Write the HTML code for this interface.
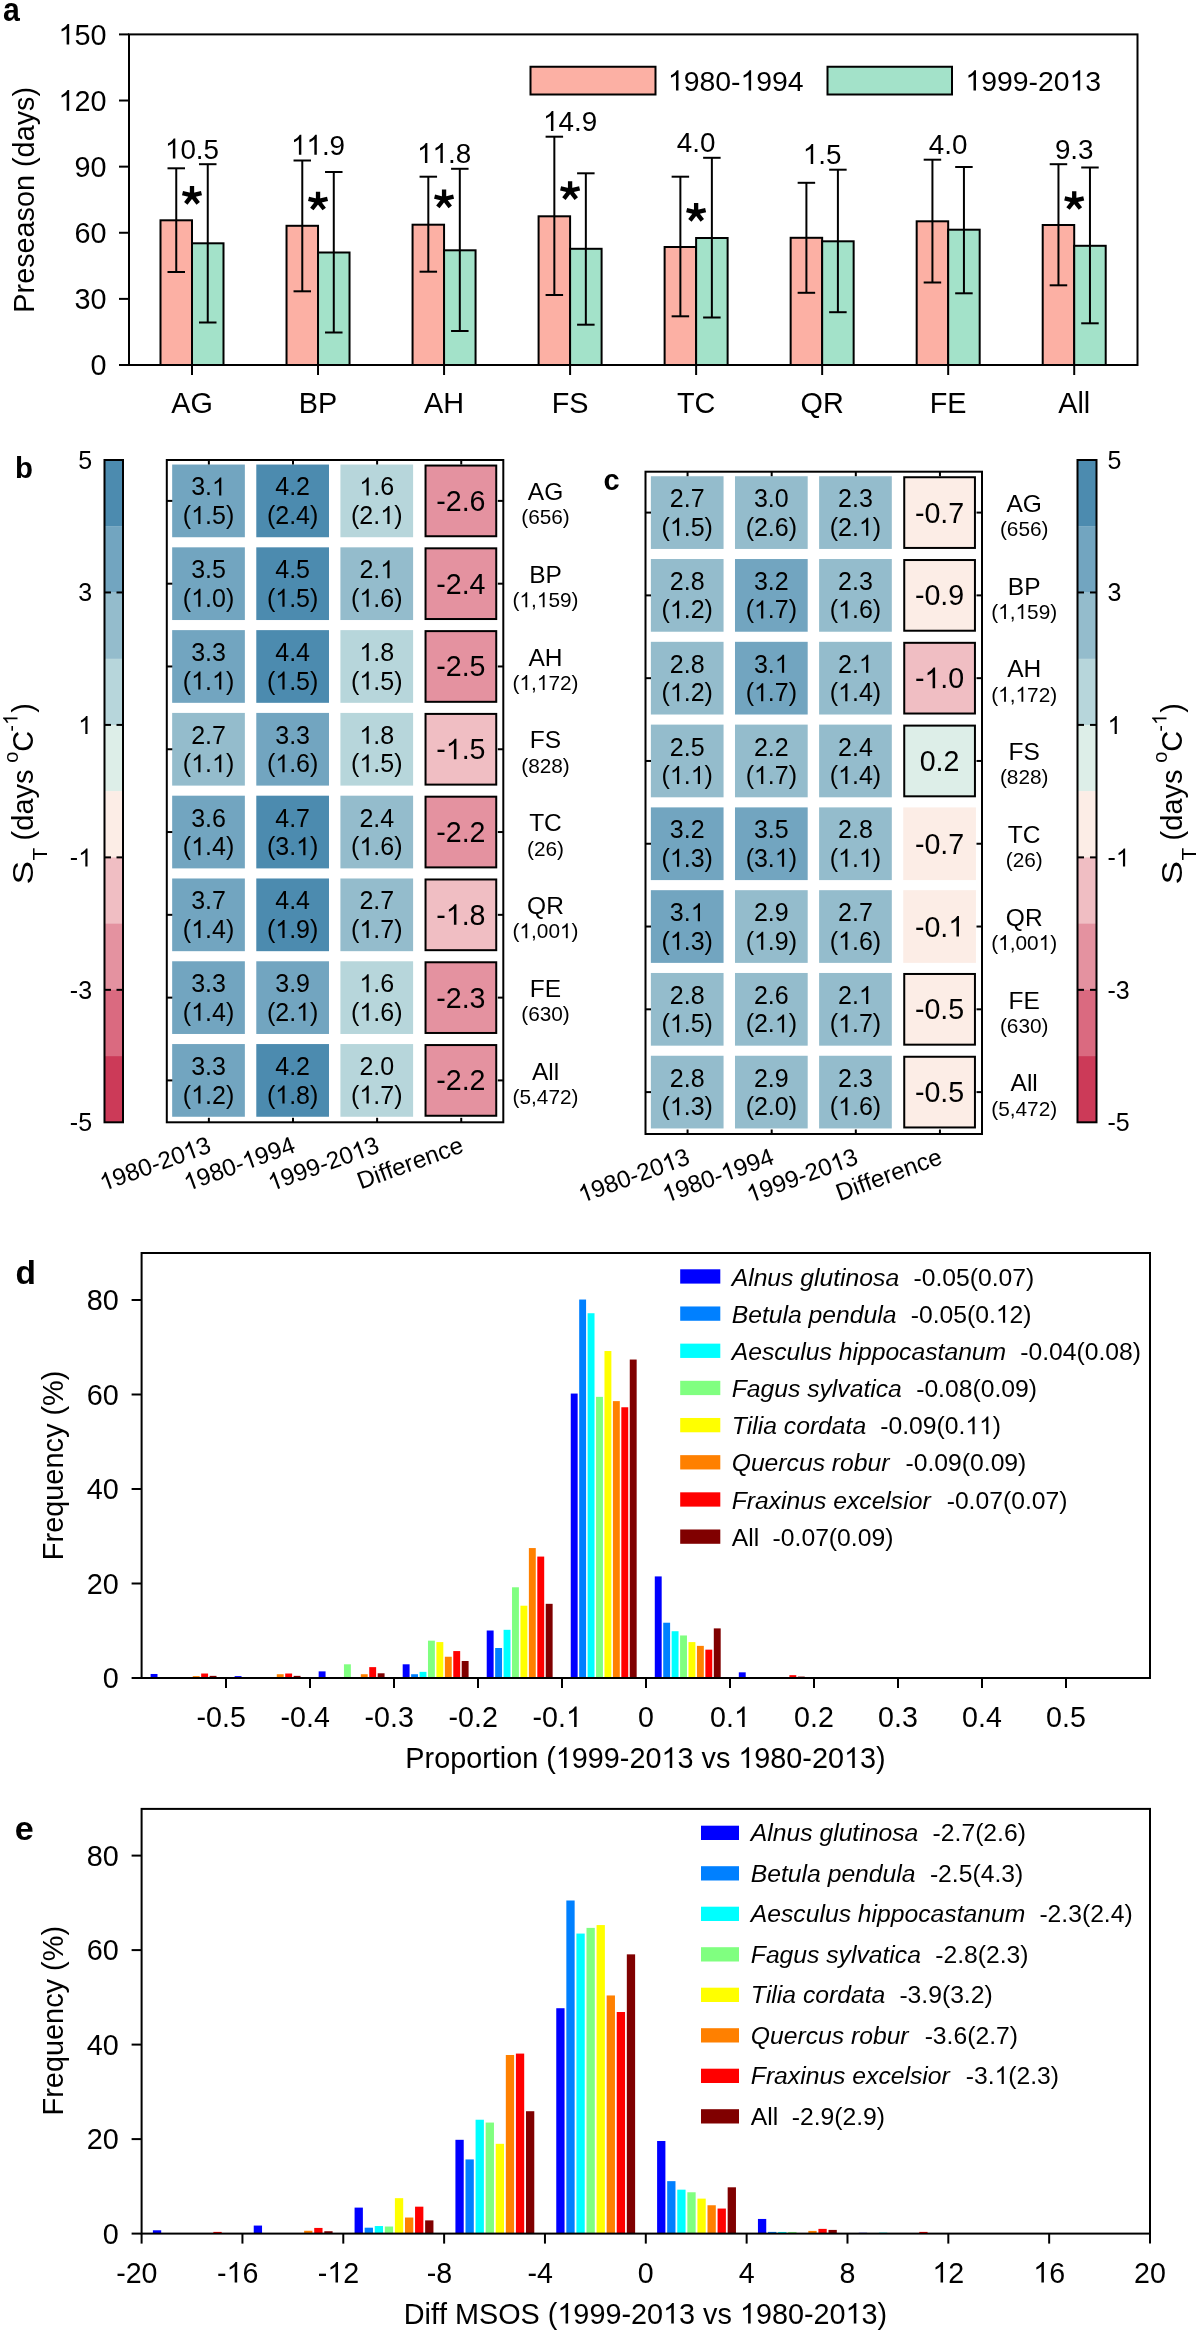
<!DOCTYPE html>
<html><head><meta charset="utf-8"><title>Figure</title>
<style>html,body{margin:0;padding:0;background:#fff;overflow:hidden}svg{display:block;will-change:transform}text{font-kerning:none;font-variant-ligatures:none}text{font-family:"Liberation Sans",sans-serif;fill:#000}</style>
</head><body>
<svg width="1199" height="2334" viewBox="0 0 1199 2334">
<rect width="1199" height="2334" fill="#fff"/>
<rect x="160.5" y="220.3" width="31.5" height="144.7" fill="#FCB0A4" stroke="#000" stroke-width="2"/>
<rect x="192" y="243.3" width="31.5" height="121.7" fill="#A3E2C9" stroke="#000" stroke-width="2"/>
<rect x="286.53" y="225.8" width="31.5" height="139.2" fill="#FCB0A4" stroke="#000" stroke-width="2"/>
<rect x="318.03" y="252.5" width="31.5" height="112.5" fill="#A3E2C9" stroke="#000" stroke-width="2"/>
<rect x="412.56" y="224.7" width="31.5" height="140.3" fill="#FCB0A4" stroke="#000" stroke-width="2"/>
<rect x="444.06" y="250.3" width="31.5" height="114.7" fill="#A3E2C9" stroke="#000" stroke-width="2"/>
<rect x="538.59" y="216.3" width="31.5" height="148.7" fill="#FCB0A4" stroke="#000" stroke-width="2"/>
<rect x="570.09" y="248.8" width="31.5" height="116.2" fill="#A3E2C9" stroke="#000" stroke-width="2"/>
<rect x="664.62" y="247" width="31.5" height="118" fill="#FCB0A4" stroke="#000" stroke-width="2"/>
<rect x="696.12" y="238" width="31.5" height="127" fill="#A3E2C9" stroke="#000" stroke-width="2"/>
<rect x="790.65" y="237.8" width="31.5" height="127.2" fill="#FCB0A4" stroke="#000" stroke-width="2"/>
<rect x="822.15" y="241.3" width="31.5" height="123.7" fill="#A3E2C9" stroke="#000" stroke-width="2"/>
<rect x="916.68" y="221.3" width="31.5" height="143.7" fill="#FCB0A4" stroke="#000" stroke-width="2"/>
<rect x="948.18" y="229.7" width="31.5" height="135.3" fill="#A3E2C9" stroke="#000" stroke-width="2"/>
<rect x="1042.71" y="225" width="31.5" height="140" fill="#FCB0A4" stroke="#000" stroke-width="2"/>
<rect x="1074.21" y="245.8" width="31.5" height="119.2" fill="#A3E2C9" stroke="#000" stroke-width="2"/>
<line x1="176.25" y1="168.3" x2="176.25" y2="272" stroke="#000" stroke-width="2"/>
<line x1="167.5" y1="168.3" x2="185" y2="168.3" stroke="#000" stroke-width="2"/>
<line x1="167.5" y1="272" x2="185" y2="272" stroke="#000" stroke-width="2"/>
<line x1="207.75" y1="164.2" x2="207.75" y2="322.5" stroke="#000" stroke-width="2"/>
<line x1="199" y1="164.2" x2="216.5" y2="164.2" stroke="#000" stroke-width="2"/>
<line x1="199" y1="322.5" x2="216.5" y2="322.5" stroke="#000" stroke-width="2"/>
<text x="164.95" y="158.5" font-size="27.8"> 0.5</text><path d="M763 0L583 0L583 1147Q518 1085 412 1023Q306 961 222 930L222 1104Q373 1175 486 1276Q599 1377 646 1472L763 1472Z" transform="translate(164.95,158.5) scale(0.01357,-0.01357)"/>
<path d="M192 195.4L192 186 M192 195.4L182.5 193.1 M192 195.4L201.5 193.1 M192 195.4L185.8 203.3 M192 195.4L198.2 203.3" stroke="#000" stroke-width="4.3" fill="none"/>
<line x1="192" y1="365" x2="192" y2="375" stroke="#000" stroke-width="2"/>
<text x="171.19" y="412.5" font-size="28.8">AG</text>
<line x1="302.28" y1="160.5" x2="302.28" y2="291.3" stroke="#000" stroke-width="2"/>
<line x1="293.53" y1="160.5" x2="311.03" y2="160.5" stroke="#000" stroke-width="2"/>
<line x1="293.53" y1="291.3" x2="311.03" y2="291.3" stroke="#000" stroke-width="2"/>
<line x1="333.78" y1="172" x2="333.78" y2="332.5" stroke="#000" stroke-width="2"/>
<line x1="325.03" y1="172" x2="342.53" y2="172" stroke="#000" stroke-width="2"/>
<line x1="325.03" y1="332.5" x2="342.53" y2="332.5" stroke="#000" stroke-width="2"/>
<text x="290.98" y="154.8" font-size="27.8">  .9</text><path d="M763 0L583 0L583 1147Q518 1085 412 1023Q306 961 222 930L222 1104Q373 1175 486 1276Q599 1377 646 1472L763 1472Z" transform="translate(290.98,154.8) scale(0.01357,-0.01357)"/><path d="M763 0L583 0L583 1147Q518 1085 412 1023Q306 961 222 930L222 1104Q373 1175 486 1276Q599 1377 646 1472L763 1472Z" transform="translate(306.44,154.8) scale(0.01357,-0.01357)"/>
<path d="M318.03 201.1L318.03 191.7 M318.03 201.1L308.53 198.8 M318.03 201.1L327.53 198.8 M318.03 201.1L311.83 209 M318.03 201.1L324.23 209" stroke="#000" stroke-width="4.3" fill="none"/>
<line x1="318.03" y1="365" x2="318.03" y2="375" stroke="#000" stroke-width="2"/>
<text x="298.82" y="412.5" font-size="28.8">BP</text>
<line x1="428.31" y1="176.7" x2="428.31" y2="271.7" stroke="#000" stroke-width="2"/>
<line x1="419.56" y1="176.7" x2="437.06" y2="176.7" stroke="#000" stroke-width="2"/>
<line x1="419.56" y1="271.7" x2="437.06" y2="271.7" stroke="#000" stroke-width="2"/>
<line x1="459.81" y1="168.8" x2="459.81" y2="331" stroke="#000" stroke-width="2"/>
<line x1="451.06" y1="168.8" x2="468.56" y2="168.8" stroke="#000" stroke-width="2"/>
<line x1="451.06" y1="331" x2="468.56" y2="331" stroke="#000" stroke-width="2"/>
<text x="417.01" y="163.1" font-size="27.8">  .8</text><path d="M763 0L583 0L583 1147Q518 1085 412 1023Q306 961 222 930L222 1104Q373 1175 486 1276Q599 1377 646 1472L763 1472Z" transform="translate(417.01,163.1) scale(0.01357,-0.01357)"/><path d="M763 0L583 0L583 1147Q518 1085 412 1023Q306 961 222 930L222 1104Q373 1175 486 1276Q599 1377 646 1472L763 1472Z" transform="translate(432.47,163.1) scale(0.01357,-0.01357)"/>
<path d="M444.06 199L444.06 189.6 M444.06 199L434.56 196.7 M444.06 199L453.56 196.7 M444.06 199L437.86 206.9 M444.06 199L450.26 206.9" stroke="#000" stroke-width="4.3" fill="none"/>
<line x1="444.06" y1="365" x2="444.06" y2="375" stroke="#000" stroke-width="2"/>
<text x="424.06" y="412.5" font-size="28.8">AH</text>
<line x1="554.34" y1="136.7" x2="554.34" y2="295" stroke="#000" stroke-width="2"/>
<line x1="545.59" y1="136.7" x2="563.09" y2="136.7" stroke="#000" stroke-width="2"/>
<line x1="545.59" y1="295" x2="563.09" y2="295" stroke="#000" stroke-width="2"/>
<line x1="585.84" y1="173.3" x2="585.84" y2="324.7" stroke="#000" stroke-width="2"/>
<line x1="577.09" y1="173.3" x2="594.59" y2="173.3" stroke="#000" stroke-width="2"/>
<line x1="577.09" y1="324.7" x2="594.59" y2="324.7" stroke="#000" stroke-width="2"/>
<text x="543.04" y="131" font-size="27.8"> 4.9</text><path d="M763 0L583 0L583 1147Q518 1085 412 1023Q306 961 222 930L222 1104Q373 1175 486 1276Q599 1377 646 1472L763 1472Z" transform="translate(543.04,131) scale(0.01357,-0.01357)"/>
<path d="M570.09 190.7L570.09 181.3 M570.09 190.7L560.59 188.4 M570.09 190.7L579.59 188.4 M570.09 190.7L563.89 198.6 M570.09 190.7L576.29 198.6" stroke="#000" stroke-width="4.3" fill="none"/>
<line x1="570.09" y1="365" x2="570.09" y2="375" stroke="#000" stroke-width="2"/>
<text x="551.69" y="412.5" font-size="28.8">FS</text>
<line x1="680.37" y1="176.7" x2="680.37" y2="316.3" stroke="#000" stroke-width="2"/>
<line x1="671.62" y1="176.7" x2="689.12" y2="176.7" stroke="#000" stroke-width="2"/>
<line x1="671.62" y1="316.3" x2="689.12" y2="316.3" stroke="#000" stroke-width="2"/>
<line x1="711.87" y1="157.8" x2="711.87" y2="317.5" stroke="#000" stroke-width="2"/>
<line x1="703.12" y1="157.8" x2="720.62" y2="157.8" stroke="#000" stroke-width="2"/>
<line x1="703.12" y1="317.5" x2="720.62" y2="317.5" stroke="#000" stroke-width="2"/>
<text x="676.80" y="152.1" font-size="27.8">4.0</text>
<path d="M696.12 212.4L696.12 203 M696.12 212.4L686.62 210.1 M696.12 212.4L705.62 210.1 M696.12 212.4L689.92 220.3 M696.12 212.4L702.32 220.3" stroke="#000" stroke-width="4.3" fill="none"/>
<line x1="696.12" y1="365" x2="696.12" y2="375" stroke="#000" stroke-width="2"/>
<text x="676.92" y="412.5" font-size="28.8">TC</text>
<line x1="806.4" y1="182.8" x2="806.4" y2="292.8" stroke="#000" stroke-width="2"/>
<line x1="797.65" y1="182.8" x2="815.15" y2="182.8" stroke="#000" stroke-width="2"/>
<line x1="797.65" y1="292.8" x2="815.15" y2="292.8" stroke="#000" stroke-width="2"/>
<line x1="837.9" y1="169.7" x2="837.9" y2="312.2" stroke="#000" stroke-width="2"/>
<line x1="829.15" y1="169.7" x2="846.65" y2="169.7" stroke="#000" stroke-width="2"/>
<line x1="829.15" y1="312.2" x2="846.65" y2="312.2" stroke="#000" stroke-width="2"/>
<text x="802.83" y="164" font-size="27.8"> .5</text><path d="M763 0L583 0L583 1147Q518 1085 412 1023Q306 961 222 930L222 1104Q373 1175 486 1276Q599 1377 646 1472L763 1472Z" transform="translate(802.83,164) scale(0.01357,-0.01357)"/>
<line x1="822.15" y1="365" x2="822.15" y2="375" stroke="#000" stroke-width="2"/>
<text x="800.55" y="412.5" font-size="28.8">QR</text>
<line x1="932.43" y1="159.7" x2="932.43" y2="282.5" stroke="#000" stroke-width="2"/>
<line x1="923.68" y1="159.7" x2="941.18" y2="159.7" stroke="#000" stroke-width="2"/>
<line x1="923.68" y1="282.5" x2="941.18" y2="282.5" stroke="#000" stroke-width="2"/>
<line x1="963.93" y1="167" x2="963.93" y2="293.3" stroke="#000" stroke-width="2"/>
<line x1="955.18" y1="167" x2="972.68" y2="167" stroke="#000" stroke-width="2"/>
<line x1="955.18" y1="293.3" x2="972.68" y2="293.3" stroke="#000" stroke-width="2"/>
<text x="928.86" y="154" font-size="27.8">4.0</text>
<line x1="948.18" y1="365" x2="948.18" y2="375" stroke="#000" stroke-width="2"/>
<text x="929.78" y="412.5" font-size="28.8">FE</text>
<line x1="1058.46" y1="164.2" x2="1058.46" y2="285.3" stroke="#000" stroke-width="2"/>
<line x1="1049.71" y1="164.2" x2="1067.21" y2="164.2" stroke="#000" stroke-width="2"/>
<line x1="1049.71" y1="285.3" x2="1067.21" y2="285.3" stroke="#000" stroke-width="2"/>
<line x1="1089.96" y1="167.5" x2="1089.96" y2="323.3" stroke="#000" stroke-width="2"/>
<line x1="1081.21" y1="167.5" x2="1098.71" y2="167.5" stroke="#000" stroke-width="2"/>
<line x1="1081.21" y1="323.3" x2="1098.71" y2="323.3" stroke="#000" stroke-width="2"/>
<text x="1054.89" y="158.5" font-size="27.8">9.3</text>
<path d="M1074.21 200.6L1074.21 191.2 M1074.21 200.6L1064.71 198.3 M1074.21 200.6L1083.71 198.3 M1074.21 200.6L1068.01 208.5 M1074.21 200.6L1080.41 208.5" stroke="#000" stroke-width="4.3" fill="none"/>
<line x1="1074.21" y1="365" x2="1074.21" y2="375" stroke="#000" stroke-width="2"/>
<text x="1058.21" y="412.5" font-size="28.8">All</text>
<rect x="129" y="34.4" width="1008.5" height="330.6" fill="none" stroke="#000" stroke-width="2"/>
<line x1="119" y1="365" x2="129" y2="365" stroke="#000" stroke-width="2"/>
<text x="90.48" y="375.2" font-size="28.8">0</text>
<line x1="119" y1="298.88" x2="129" y2="298.88" stroke="#000" stroke-width="2"/>
<text x="74.47" y="309.08" font-size="28.8">30</text>
<line x1="119" y1="232.76" x2="129" y2="232.76" stroke="#000" stroke-width="2"/>
<text x="74.47" y="242.96" font-size="28.8">60</text>
<line x1="119" y1="166.64" x2="129" y2="166.64" stroke="#000" stroke-width="2"/>
<text x="74.47" y="176.84" font-size="28.8">90</text>
<line x1="119" y1="100.52" x2="129" y2="100.52" stroke="#000" stroke-width="2"/>
<text x="58.45" y="110.72" font-size="28.8"> 20</text><path d="M763 0L583 0L583 1147Q518 1085 412 1023Q306 961 222 930L222 1104Q373 1175 486 1276Q599 1377 646 1472L763 1472Z" transform="translate(58.45,110.72) scale(0.01406,-0.01406)"/>
<line x1="119" y1="34.4" x2="129" y2="34.4" stroke="#000" stroke-width="2"/>
<text x="58.45" y="44.6" font-size="28.8"> 50</text><path d="M763 0L583 0L583 1147Q518 1085 412 1023Q306 961 222 930L222 1104Q373 1175 486 1276Q599 1377 646 1472L763 1472Z" transform="translate(58.45,44.6) scale(0.01406,-0.01406)"/>
<text transform="translate(33.7,199.8) rotate(-90)" font-size="28.8" text-anchor="middle">Preseason (days)</text>
<text transform="translate(3.09,21.16) scale(0.8948,1)" font-size="33.79" font-weight="bold">a</text>
<rect x="530.5" y="66.75" width="125" height="27.75" fill="#FCB0A4" stroke="#000" stroke-width="2"/>
<text x="667.90" y="90.6" font-size="28.4"> 980- 994</text><path d="M763 0L583 0L583 1147Q518 1085 412 1023Q306 961 222 930L222 1104Q373 1175 486 1276Q599 1377 646 1472L763 1472Z" transform="translate(667.90,90.6) scale(0.01387,-0.01387)"/><path d="M763 0L583 0L583 1147Q518 1085 412 1023Q306 961 222 930L222 1104Q373 1175 486 1276Q599 1377 646 1472L763 1472Z" transform="translate(740.54,90.6) scale(0.01387,-0.01387)"/>
<rect x="827.5" y="66.75" width="124.5" height="27.75" fill="#A3E2C9" stroke="#000" stroke-width="2"/>
<text x="965.40" y="90.6" font-size="28.4"> 999-20 3</text><path d="M763 0L583 0L583 1147Q518 1085 412 1023Q306 961 222 930L222 1104Q373 1175 486 1276Q599 1377 646 1472L763 1472Z" transform="translate(965.40,90.6) scale(0.01387,-0.01387)"/><path d="M763 0L583 0L583 1147Q518 1085 412 1023Q306 961 222 930L222 1104Q373 1175 486 1276Q599 1377 646 1472L763 1472Z" transform="translate(1069.63,90.6) scale(0.01387,-0.01387)"/>
<rect x="172.16" y="464.54" width="72.7" height="72.7" fill="#72A5C0"/>
<text x="191.14" y="495.49" font-size="25">3. </text><path d="M763 0L583 0L583 1147Q518 1085 412 1023Q306 961 222 930L222 1104Q373 1175 486 1276Q599 1377 646 1472L763 1472Z" transform="translate(211.99,495.49) scale(0.01221,-0.01221)"/>
<text x="182.81" y="523.99" font-size="25">( .5)</text><path d="M763 0L583 0L583 1147Q518 1085 412 1023Q306 961 222 930L222 1104Q373 1175 486 1276Q599 1377 646 1472L763 1472Z" transform="translate(191.14,523.99) scale(0.01221,-0.01221)"/>
<rect x="256.29" y="464.54" width="72.7" height="72.7" fill="#4C8BAF"/>
<text x="275.26" y="495.49" font-size="25">4.2</text>
<text x="266.94" y="523.99" font-size="25">(2.4)</text>
<rect x="340.41" y="464.54" width="72.7" height="72.7" fill="#B7D6DB"/>
<text x="359.39" y="495.49" font-size="25"> .6</text><path d="M763 0L583 0L583 1147Q518 1085 412 1023Q306 961 222 930L222 1104Q373 1175 486 1276Q599 1377 646 1472L763 1472Z" transform="translate(359.39,495.49) scale(0.01221,-0.01221)"/>
<text x="351.06" y="523.99" font-size="25">(2. )</text><path d="M763 0L583 0L583 1147Q518 1085 412 1023Q306 961 222 930L222 1104Q373 1175 486 1276Q599 1377 646 1472L763 1472Z" transform="translate(380.24,523.99) scale(0.01221,-0.01221)"/>
<rect x="425.54" y="465.54" width="70.7" height="70.7" fill="#E492A0" stroke="#000" stroke-width="2"/>
<text x="436.25" y="510.89" font-size="28.6">-2.6</text>
<text x="527.80" y="500.09" font-size="24.5">AG</text>
<text x="521.22" y="524.39" font-size="20.8">(656)</text>
<line x1="166.8" y1="500.89" x2="172.3" y2="500.89" stroke="#000" stroke-width="2"/>
<line x1="497.8" y1="500.89" x2="503.3" y2="500.89" stroke="#000" stroke-width="2"/>
<rect x="172.16" y="547.33" width="72.7" height="72.7" fill="#72A5C0"/>
<text x="191.14" y="578.28" font-size="25">3.5</text>
<text x="182.81" y="606.78" font-size="25">( .0)</text><path d="M763 0L583 0L583 1147Q518 1085 412 1023Q306 961 222 930L222 1104Q373 1175 486 1276Q599 1377 646 1472L763 1472Z" transform="translate(191.14,606.78) scale(0.01221,-0.01221)"/>
<rect x="256.29" y="547.33" width="72.7" height="72.7" fill="#4C8BAF"/>
<text x="275.26" y="578.28" font-size="25">4.5</text>
<text x="266.94" y="606.78" font-size="25">( .5)</text><path d="M763 0L583 0L583 1147Q518 1085 412 1023Q306 961 222 930L222 1104Q373 1175 486 1276Q599 1377 646 1472L763 1472Z" transform="translate(275.26,606.78) scale(0.01221,-0.01221)"/>
<rect x="340.41" y="547.33" width="72.7" height="72.7" fill="#94BCCC"/>
<text x="359.39" y="578.28" font-size="25">2. </text><path d="M763 0L583 0L583 1147Q518 1085 412 1023Q306 961 222 930L222 1104Q373 1175 486 1276Q599 1377 646 1472L763 1472Z" transform="translate(380.24,578.28) scale(0.01221,-0.01221)"/>
<text x="351.06" y="606.78" font-size="25">( .6)</text><path d="M763 0L583 0L583 1147Q518 1085 412 1023Q306 961 222 930L222 1104Q373 1175 486 1276Q599 1377 646 1472L763 1472Z" transform="translate(359.39,606.78) scale(0.01221,-0.01221)"/>
<rect x="425.54" y="548.33" width="70.7" height="70.7" fill="#E492A0" stroke="#000" stroke-width="2"/>
<text x="436.25" y="593.68" font-size="28.6">-2.4</text>
<text x="529.16" y="582.88" font-size="24.5">BP</text>
<text x="512.55" y="607.18" font-size="20.8">( , 59)</text><path d="M763 0L583 0L583 1147Q518 1085 412 1023Q306 961 222 930L222 1104Q373 1175 486 1276Q599 1377 646 1472L763 1472Z" transform="translate(519.47,607.18) scale(0.01016,-0.01016)"/><path d="M763 0L583 0L583 1147Q518 1085 412 1023Q306 961 222 930L222 1104Q373 1175 486 1276Q599 1377 646 1472L763 1472Z" transform="translate(536.82,607.18) scale(0.01016,-0.01016)"/>
<line x1="166.8" y1="583.68" x2="172.3" y2="583.68" stroke="#000" stroke-width="2"/>
<line x1="497.8" y1="583.68" x2="503.3" y2="583.68" stroke="#000" stroke-width="2"/>
<rect x="172.16" y="630.12" width="72.7" height="72.7" fill="#72A5C0"/>
<text x="191.14" y="661.07" font-size="25">3.3</text>
<text x="182.81" y="689.57" font-size="25">( . )</text><path d="M763 0L583 0L583 1147Q518 1085 412 1023Q306 961 222 930L222 1104Q373 1175 486 1276Q599 1377 646 1472L763 1472Z" transform="translate(191.14,689.57) scale(0.01221,-0.01221)"/><path d="M763 0L583 0L583 1147Q518 1085 412 1023Q306 961 222 930L222 1104Q373 1175 486 1276Q599 1377 646 1472L763 1472Z" transform="translate(211.99,689.57) scale(0.01221,-0.01221)"/>
<rect x="256.29" y="630.12" width="72.7" height="72.7" fill="#4C8BAF"/>
<text x="275.26" y="661.07" font-size="25">4.4</text>
<text x="266.94" y="689.57" font-size="25">( .5)</text><path d="M763 0L583 0L583 1147Q518 1085 412 1023Q306 961 222 930L222 1104Q373 1175 486 1276Q599 1377 646 1472L763 1472Z" transform="translate(275.26,689.57) scale(0.01221,-0.01221)"/>
<rect x="340.41" y="630.12" width="72.7" height="72.7" fill="#B7D6DB"/>
<text x="359.39" y="661.07" font-size="25"> .8</text><path d="M763 0L583 0L583 1147Q518 1085 412 1023Q306 961 222 930L222 1104Q373 1175 486 1276Q599 1377 646 1472L763 1472Z" transform="translate(359.39,661.07) scale(0.01221,-0.01221)"/>
<text x="351.06" y="689.57" font-size="25">( .5)</text><path d="M763 0L583 0L583 1147Q518 1085 412 1023Q306 961 222 930L222 1104Q373 1175 486 1276Q599 1377 646 1472L763 1472Z" transform="translate(359.39,689.57) scale(0.01221,-0.01221)"/>
<rect x="425.54" y="631.12" width="70.7" height="70.7" fill="#E492A0" stroke="#000" stroke-width="2"/>
<text x="436.25" y="676.47" font-size="28.6">-2.5</text>
<text x="528.48" y="665.67" font-size="24.5">AH</text>
<text x="512.55" y="689.97" font-size="20.8">( , 72)</text><path d="M763 0L583 0L583 1147Q518 1085 412 1023Q306 961 222 930L222 1104Q373 1175 486 1276Q599 1377 646 1472L763 1472Z" transform="translate(519.47,689.97) scale(0.01016,-0.01016)"/><path d="M763 0L583 0L583 1147Q518 1085 412 1023Q306 961 222 930L222 1104Q373 1175 486 1276Q599 1377 646 1472L763 1472Z" transform="translate(536.82,689.97) scale(0.01016,-0.01016)"/>
<line x1="166.8" y1="666.47" x2="172.3" y2="666.47" stroke="#000" stroke-width="2"/>
<line x1="497.8" y1="666.47" x2="503.3" y2="666.47" stroke="#000" stroke-width="2"/>
<rect x="172.16" y="712.91" width="72.7" height="72.7" fill="#94BCCC"/>
<text x="191.14" y="743.86" font-size="25">2.7</text>
<text x="182.81" y="772.36" font-size="25">( . )</text><path d="M763 0L583 0L583 1147Q518 1085 412 1023Q306 961 222 930L222 1104Q373 1175 486 1276Q599 1377 646 1472L763 1472Z" transform="translate(191.14,772.36) scale(0.01221,-0.01221)"/><path d="M763 0L583 0L583 1147Q518 1085 412 1023Q306 961 222 930L222 1104Q373 1175 486 1276Q599 1377 646 1472L763 1472Z" transform="translate(211.99,772.36) scale(0.01221,-0.01221)"/>
<rect x="256.29" y="712.91" width="72.7" height="72.7" fill="#72A5C0"/>
<text x="275.26" y="743.86" font-size="25">3.3</text>
<text x="266.94" y="772.36" font-size="25">( .6)</text><path d="M763 0L583 0L583 1147Q518 1085 412 1023Q306 961 222 930L222 1104Q373 1175 486 1276Q599 1377 646 1472L763 1472Z" transform="translate(275.26,772.36) scale(0.01221,-0.01221)"/>
<rect x="340.41" y="712.91" width="72.7" height="72.7" fill="#B7D6DB"/>
<text x="359.39" y="743.86" font-size="25"> .8</text><path d="M763 0L583 0L583 1147Q518 1085 412 1023Q306 961 222 930L222 1104Q373 1175 486 1276Q599 1377 646 1472L763 1472Z" transform="translate(359.39,743.86) scale(0.01221,-0.01221)"/>
<text x="351.06" y="772.36" font-size="25">( .5)</text><path d="M763 0L583 0L583 1147Q518 1085 412 1023Q306 961 222 930L222 1104Q373 1175 486 1276Q599 1377 646 1472L763 1472Z" transform="translate(359.39,772.36) scale(0.01221,-0.01221)"/>
<rect x="425.54" y="713.91" width="70.7" height="70.7" fill="#F0BEC3" stroke="#000" stroke-width="2"/>
<text x="436.25" y="759.26" font-size="28.6">- .5</text><path d="M763 0L583 0L583 1147Q518 1085 412 1023Q306 961 222 930L222 1104Q373 1175 486 1276Q599 1377 646 1472L763 1472Z" transform="translate(445.77,759.26) scale(0.01396,-0.01396)"/>
<text x="529.85" y="748.46" font-size="24.5">FS</text>
<text x="521.22" y="772.76" font-size="20.8">(828)</text>
<line x1="166.8" y1="749.26" x2="172.3" y2="749.26" stroke="#000" stroke-width="2"/>
<line x1="497.8" y1="749.26" x2="503.3" y2="749.26" stroke="#000" stroke-width="2"/>
<rect x="172.16" y="795.69" width="72.7" height="72.7" fill="#72A5C0"/>
<text x="191.14" y="826.64" font-size="25">3.6</text>
<text x="182.81" y="855.14" font-size="25">( .4)</text><path d="M763 0L583 0L583 1147Q518 1085 412 1023Q306 961 222 930L222 1104Q373 1175 486 1276Q599 1377 646 1472L763 1472Z" transform="translate(191.14,855.14) scale(0.01221,-0.01221)"/>
<rect x="256.29" y="795.69" width="72.7" height="72.7" fill="#4C8BAF"/>
<text x="275.26" y="826.64" font-size="25">4.7</text>
<text x="266.94" y="855.14" font-size="25">(3. )</text><path d="M763 0L583 0L583 1147Q518 1085 412 1023Q306 961 222 930L222 1104Q373 1175 486 1276Q599 1377 646 1472L763 1472Z" transform="translate(296.11,855.14) scale(0.01221,-0.01221)"/>
<rect x="340.41" y="795.69" width="72.7" height="72.7" fill="#94BCCC"/>
<text x="359.39" y="826.64" font-size="25">2.4</text>
<text x="351.06" y="855.14" font-size="25">( .6)</text><path d="M763 0L583 0L583 1147Q518 1085 412 1023Q306 961 222 930L222 1104Q373 1175 486 1276Q599 1377 646 1472L763 1472Z" transform="translate(359.39,855.14) scale(0.01221,-0.01221)"/>
<rect x="425.54" y="796.69" width="70.7" height="70.7" fill="#E492A0" stroke="#000" stroke-width="2"/>
<text x="436.25" y="842.04" font-size="28.6">-2.2</text>
<text x="529.17" y="831.24" font-size="24.5">TC</text>
<text x="527.01" y="855.54" font-size="20.8">(26)</text>
<line x1="166.8" y1="832.04" x2="172.3" y2="832.04" stroke="#000" stroke-width="2"/>
<line x1="497.8" y1="832.04" x2="503.3" y2="832.04" stroke="#000" stroke-width="2"/>
<rect x="172.16" y="878.48" width="72.7" height="72.7" fill="#72A5C0"/>
<text x="191.14" y="909.43" font-size="25">3.7</text>
<text x="182.81" y="937.93" font-size="25">( .4)</text><path d="M763 0L583 0L583 1147Q518 1085 412 1023Q306 961 222 930L222 1104Q373 1175 486 1276Q599 1377 646 1472L763 1472Z" transform="translate(191.14,937.93) scale(0.01221,-0.01221)"/>
<rect x="256.29" y="878.48" width="72.7" height="72.7" fill="#4C8BAF"/>
<text x="275.26" y="909.43" font-size="25">4.4</text>
<text x="266.94" y="937.93" font-size="25">( .9)</text><path d="M763 0L583 0L583 1147Q518 1085 412 1023Q306 961 222 930L222 1104Q373 1175 486 1276Q599 1377 646 1472L763 1472Z" transform="translate(275.26,937.93) scale(0.01221,-0.01221)"/>
<rect x="340.41" y="878.48" width="72.7" height="72.7" fill="#94BCCC"/>
<text x="359.39" y="909.43" font-size="25">2.7</text>
<text x="351.06" y="937.93" font-size="25">( .7)</text><path d="M763 0L583 0L583 1147Q518 1085 412 1023Q306 961 222 930L222 1104Q373 1175 486 1276Q599 1377 646 1472L763 1472Z" transform="translate(359.39,937.93) scale(0.01221,-0.01221)"/>
<rect x="425.54" y="879.48" width="70.7" height="70.7" fill="#F0BEC3" stroke="#000" stroke-width="2"/>
<text x="436.25" y="924.83" font-size="28.6">- .8</text><path d="M763 0L583 0L583 1147Q518 1085 412 1023Q306 961 222 930L222 1104Q373 1175 486 1276Q599 1377 646 1472L763 1472Z" transform="translate(445.77,924.83) scale(0.01396,-0.01396)"/>
<text x="527.12" y="914.03" font-size="24.5">QR</text>
<text x="512.55" y="938.33" font-size="20.8">( ,00 )</text><path d="M763 0L583 0L583 1147Q518 1085 412 1023Q306 961 222 930L222 1104Q373 1175 486 1276Q599 1377 646 1472L763 1472Z" transform="translate(519.47,938.33) scale(0.01016,-0.01016)"/><path d="M763 0L583 0L583 1147Q518 1085 412 1023Q306 961 222 930L222 1104Q373 1175 486 1276Q599 1377 646 1472L763 1472Z" transform="translate(559.96,938.33) scale(0.01016,-0.01016)"/>
<line x1="166.8" y1="914.83" x2="172.3" y2="914.83" stroke="#000" stroke-width="2"/>
<line x1="497.8" y1="914.83" x2="503.3" y2="914.83" stroke="#000" stroke-width="2"/>
<rect x="172.16" y="961.27" width="72.7" height="72.7" fill="#72A5C0"/>
<text x="191.14" y="992.22" font-size="25">3.3</text>
<text x="182.81" y="1020.72" font-size="25">( .4)</text><path d="M763 0L583 0L583 1147Q518 1085 412 1023Q306 961 222 930L222 1104Q373 1175 486 1276Q599 1377 646 1472L763 1472Z" transform="translate(191.14,1020.72) scale(0.01221,-0.01221)"/>
<rect x="256.29" y="961.27" width="72.7" height="72.7" fill="#72A5C0"/>
<text x="275.26" y="992.22" font-size="25">3.9</text>
<text x="266.94" y="1020.72" font-size="25">(2. )</text><path d="M763 0L583 0L583 1147Q518 1085 412 1023Q306 961 222 930L222 1104Q373 1175 486 1276Q599 1377 646 1472L763 1472Z" transform="translate(296.11,1020.72) scale(0.01221,-0.01221)"/>
<rect x="340.41" y="961.27" width="72.7" height="72.7" fill="#B7D6DB"/>
<text x="359.39" y="992.22" font-size="25"> .6</text><path d="M763 0L583 0L583 1147Q518 1085 412 1023Q306 961 222 930L222 1104Q373 1175 486 1276Q599 1377 646 1472L763 1472Z" transform="translate(359.39,992.22) scale(0.01221,-0.01221)"/>
<text x="351.06" y="1020.72" font-size="25">( .6)</text><path d="M763 0L583 0L583 1147Q518 1085 412 1023Q306 961 222 930L222 1104Q373 1175 486 1276Q599 1377 646 1472L763 1472Z" transform="translate(359.39,1020.72) scale(0.01221,-0.01221)"/>
<rect x="425.54" y="962.27" width="70.7" height="70.7" fill="#E492A0" stroke="#000" stroke-width="2"/>
<text x="436.25" y="1007.62" font-size="28.6">-2.3</text>
<text x="529.85" y="996.82" font-size="24.5">FE</text>
<text x="521.22" y="1021.12" font-size="20.8">(630)</text>
<line x1="166.8" y1="997.62" x2="172.3" y2="997.62" stroke="#000" stroke-width="2"/>
<line x1="497.8" y1="997.62" x2="503.3" y2="997.62" stroke="#000" stroke-width="2"/>
<rect x="172.16" y="1044.06" width="72.7" height="72.7" fill="#72A5C0"/>
<text x="191.14" y="1075.01" font-size="25">3.3</text>
<text x="182.81" y="1103.51" font-size="25">( .2)</text><path d="M763 0L583 0L583 1147Q518 1085 412 1023Q306 961 222 930L222 1104Q373 1175 486 1276Q599 1377 646 1472L763 1472Z" transform="translate(191.14,1103.51) scale(0.01221,-0.01221)"/>
<rect x="256.29" y="1044.06" width="72.7" height="72.7" fill="#4C8BAF"/>
<text x="275.26" y="1075.01" font-size="25">4.2</text>
<text x="266.94" y="1103.51" font-size="25">( .8)</text><path d="M763 0L583 0L583 1147Q518 1085 412 1023Q306 961 222 930L222 1104Q373 1175 486 1276Q599 1377 646 1472L763 1472Z" transform="translate(275.26,1103.51) scale(0.01221,-0.01221)"/>
<rect x="340.41" y="1044.06" width="72.7" height="72.7" fill="#B7D6DB"/>
<text x="359.39" y="1075.01" font-size="25">2.0</text>
<text x="351.06" y="1103.51" font-size="25">( .7)</text><path d="M763 0L583 0L583 1147Q518 1085 412 1023Q306 961 222 930L222 1104Q373 1175 486 1276Q599 1377 646 1472L763 1472Z" transform="translate(359.39,1103.51) scale(0.01221,-0.01221)"/>
<rect x="425.54" y="1045.06" width="70.7" height="70.7" fill="#E492A0" stroke="#000" stroke-width="2"/>
<text x="436.25" y="1090.41" font-size="28.6">-2.2</text>
<text x="531.89" y="1079.61" font-size="24.5">All</text>
<text x="512.55" y="1103.91" font-size="20.8">(5,472)</text>
<line x1="166.8" y1="1080.41" x2="172.3" y2="1080.41" stroke="#000" stroke-width="2"/>
<line x1="497.8" y1="1080.41" x2="503.3" y2="1080.41" stroke="#000" stroke-width="2"/>
<line x1="208.86" y1="460" x2="208.86" y2="464.5" stroke="#000" stroke-width="2"/>
<line x1="208.86" y1="1117.8" x2="208.86" y2="1122.3" stroke="#000" stroke-width="2"/>
<line x1="292.99" y1="460" x2="292.99" y2="464.5" stroke="#000" stroke-width="2"/>
<line x1="292.99" y1="1117.8" x2="292.99" y2="1122.3" stroke="#000" stroke-width="2"/>
<line x1="377.11" y1="460" x2="377.11" y2="464.5" stroke="#000" stroke-width="2"/>
<line x1="377.11" y1="1117.8" x2="377.11" y2="1122.3" stroke="#000" stroke-width="2"/>
<line x1="461.24" y1="460" x2="461.24" y2="464.5" stroke="#000" stroke-width="2"/>
<line x1="461.24" y1="1117.8" x2="461.24" y2="1122.3" stroke="#000" stroke-width="2"/>
<rect x="166.8" y="460" width="336.5" height="662.3" fill="none" stroke="#000" stroke-width="2"/>
<g transform="translate(212.56,1151.6) rotate(-20)"><text x="-116.21" y="0" font-size="24.3"> 980-20 3</text><path d="M763 0L583 0L583 1147Q518 1085 412 1023Q306 961 222 930L222 1104Q373 1175 486 1276Q599 1377 646 1472L763 1472Z" transform="translate(-116.21,0) scale(0.01187,-0.01187)"/><path d="M763 0L583 0L583 1147Q518 1085 412 1023Q306 961 222 930L222 1104Q373 1175 486 1276Q599 1377 646 1472L763 1472Z" transform="translate(-27.03,0) scale(0.01187,-0.01187)"/></g>
<g transform="translate(296.69,1151.6) rotate(-20)"><text x="-116.21" y="0" font-size="24.3"> 980- 994</text><path d="M763 0L583 0L583 1147Q518 1085 412 1023Q306 961 222 930L222 1104Q373 1175 486 1276Q599 1377 646 1472L763 1472Z" transform="translate(-116.21,0) scale(0.01187,-0.01187)"/><path d="M763 0L583 0L583 1147Q518 1085 412 1023Q306 961 222 930L222 1104Q373 1175 486 1276Q599 1377 646 1472L763 1472Z" transform="translate(-54.06,0) scale(0.01187,-0.01187)"/></g>
<g transform="translate(380.81,1151.6) rotate(-20)"><text x="-116.21" y="0" font-size="24.3"> 999-20 3</text><path d="M763 0L583 0L583 1147Q518 1085 412 1023Q306 961 222 930L222 1104Q373 1175 486 1276Q599 1377 646 1472L763 1472Z" transform="translate(-116.21,0) scale(0.01187,-0.01187)"/><path d="M763 0L583 0L583 1147Q518 1085 412 1023Q306 961 222 930L222 1104Q373 1175 486 1276Q599 1377 646 1472L763 1472Z" transform="translate(-27.03,0) scale(0.01187,-0.01187)"/></g>
<g transform="translate(464.94,1151.6) rotate(-20)"><text x="-110.75" y="0" font-size="24.3">Difference</text></g>
<rect x="650.86" y="476.24" width="72.7" height="72.7" fill="#94BCCC"/>
<text x="669.84" y="507.19" font-size="25">2.7</text>
<text x="661.51" y="535.69" font-size="25">( .5)</text><path d="M763 0L583 0L583 1147Q518 1085 412 1023Q306 961 222 930L222 1104Q373 1175 486 1276Q599 1377 646 1472L763 1472Z" transform="translate(669.84,535.69) scale(0.01221,-0.01221)"/>
<rect x="734.99" y="476.24" width="72.7" height="72.7" fill="#94BCCC"/>
<text x="753.96" y="507.19" font-size="25">3.0</text>
<text x="745.64" y="535.69" font-size="25">(2.6)</text>
<rect x="819.11" y="476.24" width="72.7" height="72.7" fill="#94BCCC"/>
<text x="838.09" y="507.19" font-size="25">2.3</text>
<text x="829.76" y="535.69" font-size="25">(2. )</text><path d="M763 0L583 0L583 1147Q518 1085 412 1023Q306 961 222 930L222 1104Q373 1175 486 1276Q599 1377 646 1472L763 1472Z" transform="translate(858.94,535.69) scale(0.01221,-0.01221)"/>
<rect x="904.24" y="477.24" width="70.7" height="70.7" fill="#FCEDE6" stroke="#000" stroke-width="2"/>
<text x="914.95" y="522.59" font-size="28.6">-0.7</text>
<text x="1006.50" y="511.79" font-size="24.5">AG</text>
<text x="999.92" y="536.09" font-size="20.8">(656)</text>
<line x1="645.5" y1="512.59" x2="651" y2="512.59" stroke="#000" stroke-width="2"/>
<line x1="976.5" y1="512.59" x2="982" y2="512.59" stroke="#000" stroke-width="2"/>
<rect x="650.86" y="559.03" width="72.7" height="72.7" fill="#94BCCC"/>
<text x="669.84" y="589.98" font-size="25">2.8</text>
<text x="661.51" y="618.48" font-size="25">( .2)</text><path d="M763 0L583 0L583 1147Q518 1085 412 1023Q306 961 222 930L222 1104Q373 1175 486 1276Q599 1377 646 1472L763 1472Z" transform="translate(669.84,618.48) scale(0.01221,-0.01221)"/>
<rect x="734.99" y="559.03" width="72.7" height="72.7" fill="#72A5C0"/>
<text x="753.96" y="589.98" font-size="25">3.2</text>
<text x="745.64" y="618.48" font-size="25">( .7)</text><path d="M763 0L583 0L583 1147Q518 1085 412 1023Q306 961 222 930L222 1104Q373 1175 486 1276Q599 1377 646 1472L763 1472Z" transform="translate(753.96,618.48) scale(0.01221,-0.01221)"/>
<rect x="819.11" y="559.03" width="72.7" height="72.7" fill="#94BCCC"/>
<text x="838.09" y="589.98" font-size="25">2.3</text>
<text x="829.76" y="618.48" font-size="25">( .6)</text><path d="M763 0L583 0L583 1147Q518 1085 412 1023Q306 961 222 930L222 1104Q373 1175 486 1276Q599 1377 646 1472L763 1472Z" transform="translate(838.09,618.48) scale(0.01221,-0.01221)"/>
<rect x="904.24" y="560.03" width="70.7" height="70.7" fill="#FCEDE6" stroke="#000" stroke-width="2"/>
<text x="914.95" y="605.38" font-size="28.6">-0.9</text>
<text x="1007.86" y="594.58" font-size="24.5">BP</text>
<text x="991.25" y="618.88" font-size="20.8">( , 59)</text><path d="M763 0L583 0L583 1147Q518 1085 412 1023Q306 961 222 930L222 1104Q373 1175 486 1276Q599 1377 646 1472L763 1472Z" transform="translate(998.17,618.88) scale(0.01016,-0.01016)"/><path d="M763 0L583 0L583 1147Q518 1085 412 1023Q306 961 222 930L222 1104Q373 1175 486 1276Q599 1377 646 1472L763 1472Z" transform="translate(1015.52,618.88) scale(0.01016,-0.01016)"/>
<line x1="645.5" y1="595.38" x2="651" y2="595.38" stroke="#000" stroke-width="2"/>
<line x1="976.5" y1="595.38" x2="982" y2="595.38" stroke="#000" stroke-width="2"/>
<rect x="650.86" y="641.82" width="72.7" height="72.7" fill="#94BCCC"/>
<text x="669.84" y="672.77" font-size="25">2.8</text>
<text x="661.51" y="701.27" font-size="25">( .2)</text><path d="M763 0L583 0L583 1147Q518 1085 412 1023Q306 961 222 930L222 1104Q373 1175 486 1276Q599 1377 646 1472L763 1472Z" transform="translate(669.84,701.27) scale(0.01221,-0.01221)"/>
<rect x="734.99" y="641.82" width="72.7" height="72.7" fill="#72A5C0"/>
<text x="753.96" y="672.77" font-size="25">3. </text><path d="M763 0L583 0L583 1147Q518 1085 412 1023Q306 961 222 930L222 1104Q373 1175 486 1276Q599 1377 646 1472L763 1472Z" transform="translate(774.81,672.77) scale(0.01221,-0.01221)"/>
<text x="745.64" y="701.27" font-size="25">( .7)</text><path d="M763 0L583 0L583 1147Q518 1085 412 1023Q306 961 222 930L222 1104Q373 1175 486 1276Q599 1377 646 1472L763 1472Z" transform="translate(753.96,701.27) scale(0.01221,-0.01221)"/>
<rect x="819.11" y="641.82" width="72.7" height="72.7" fill="#94BCCC"/>
<text x="838.09" y="672.77" font-size="25">2. </text><path d="M763 0L583 0L583 1147Q518 1085 412 1023Q306 961 222 930L222 1104Q373 1175 486 1276Q599 1377 646 1472L763 1472Z" transform="translate(858.94,672.77) scale(0.01221,-0.01221)"/>
<text x="829.76" y="701.27" font-size="25">( .4)</text><path d="M763 0L583 0L583 1147Q518 1085 412 1023Q306 961 222 930L222 1104Q373 1175 486 1276Q599 1377 646 1472L763 1472Z" transform="translate(838.09,701.27) scale(0.01221,-0.01221)"/>
<rect x="904.24" y="642.82" width="70.7" height="70.7" fill="#F0BEC3" stroke="#000" stroke-width="2"/>
<text x="914.95" y="688.17" font-size="28.6">- .0</text><path d="M763 0L583 0L583 1147Q518 1085 412 1023Q306 961 222 930L222 1104Q373 1175 486 1276Q599 1377 646 1472L763 1472Z" transform="translate(924.47,688.17) scale(0.01396,-0.01396)"/>
<text x="1007.18" y="677.37" font-size="24.5">AH</text>
<text x="991.25" y="701.67" font-size="20.8">( , 72)</text><path d="M763 0L583 0L583 1147Q518 1085 412 1023Q306 961 222 930L222 1104Q373 1175 486 1276Q599 1377 646 1472L763 1472Z" transform="translate(998.17,701.67) scale(0.01016,-0.01016)"/><path d="M763 0L583 0L583 1147Q518 1085 412 1023Q306 961 222 930L222 1104Q373 1175 486 1276Q599 1377 646 1472L763 1472Z" transform="translate(1015.52,701.67) scale(0.01016,-0.01016)"/>
<line x1="645.5" y1="678.17" x2="651" y2="678.17" stroke="#000" stroke-width="2"/>
<line x1="976.5" y1="678.17" x2="982" y2="678.17" stroke="#000" stroke-width="2"/>
<rect x="650.86" y="724.61" width="72.7" height="72.7" fill="#94BCCC"/>
<text x="669.84" y="755.56" font-size="25">2.5</text>
<text x="661.51" y="784.06" font-size="25">( . )</text><path d="M763 0L583 0L583 1147Q518 1085 412 1023Q306 961 222 930L222 1104Q373 1175 486 1276Q599 1377 646 1472L763 1472Z" transform="translate(669.84,784.06) scale(0.01221,-0.01221)"/><path d="M763 0L583 0L583 1147Q518 1085 412 1023Q306 961 222 930L222 1104Q373 1175 486 1276Q599 1377 646 1472L763 1472Z" transform="translate(690.69,784.06) scale(0.01221,-0.01221)"/>
<rect x="734.99" y="724.61" width="72.7" height="72.7" fill="#94BCCC"/>
<text x="753.96" y="755.56" font-size="25">2.2</text>
<text x="745.64" y="784.06" font-size="25">( .7)</text><path d="M763 0L583 0L583 1147Q518 1085 412 1023Q306 961 222 930L222 1104Q373 1175 486 1276Q599 1377 646 1472L763 1472Z" transform="translate(753.96,784.06) scale(0.01221,-0.01221)"/>
<rect x="819.11" y="724.61" width="72.7" height="72.7" fill="#94BCCC"/>
<text x="838.09" y="755.56" font-size="25">2.4</text>
<text x="829.76" y="784.06" font-size="25">( .4)</text><path d="M763 0L583 0L583 1147Q518 1085 412 1023Q306 961 222 930L222 1104Q373 1175 486 1276Q599 1377 646 1472L763 1472Z" transform="translate(838.09,784.06) scale(0.01221,-0.01221)"/>
<rect x="904.24" y="725.61" width="70.7" height="70.7" fill="#DDEEE8" stroke="#000" stroke-width="2"/>
<text x="919.71" y="770.96" font-size="28.6">0.2</text>
<text x="1008.55" y="760.16" font-size="24.5">FS</text>
<text x="999.92" y="784.46" font-size="20.8">(828)</text>
<line x1="645.5" y1="760.96" x2="651" y2="760.96" stroke="#000" stroke-width="2"/>
<line x1="976.5" y1="760.96" x2="982" y2="760.96" stroke="#000" stroke-width="2"/>
<rect x="650.86" y="807.39" width="72.7" height="72.7" fill="#72A5C0"/>
<text x="669.84" y="838.34" font-size="25">3.2</text>
<text x="661.51" y="866.84" font-size="25">( .3)</text><path d="M763 0L583 0L583 1147Q518 1085 412 1023Q306 961 222 930L222 1104Q373 1175 486 1276Q599 1377 646 1472L763 1472Z" transform="translate(669.84,866.84) scale(0.01221,-0.01221)"/>
<rect x="734.99" y="807.39" width="72.7" height="72.7" fill="#72A5C0"/>
<text x="753.96" y="838.34" font-size="25">3.5</text>
<text x="745.64" y="866.84" font-size="25">(3. )</text><path d="M763 0L583 0L583 1147Q518 1085 412 1023Q306 961 222 930L222 1104Q373 1175 486 1276Q599 1377 646 1472L763 1472Z" transform="translate(774.81,866.84) scale(0.01221,-0.01221)"/>
<rect x="819.11" y="807.39" width="72.7" height="72.7" fill="#94BCCC"/>
<text x="838.09" y="838.34" font-size="25">2.8</text>
<text x="829.76" y="866.84" font-size="25">( . )</text><path d="M763 0L583 0L583 1147Q518 1085 412 1023Q306 961 222 930L222 1104Q373 1175 486 1276Q599 1377 646 1472L763 1472Z" transform="translate(838.09,866.84) scale(0.01221,-0.01221)"/><path d="M763 0L583 0L583 1147Q518 1085 412 1023Q306 961 222 930L222 1104Q373 1175 486 1276Q599 1377 646 1472L763 1472Z" transform="translate(858.94,866.84) scale(0.01221,-0.01221)"/>
<rect x="903.24" y="807.39" width="72.7" height="72.7" fill="#FCEDE6"/>
<text x="914.95" y="853.74" font-size="28.6">-0.7</text>
<text x="1007.87" y="842.94" font-size="24.5">TC</text>
<text x="1005.71" y="867.24" font-size="20.8">(26)</text>
<line x1="645.5" y1="843.74" x2="651" y2="843.74" stroke="#000" stroke-width="2"/>
<line x1="976.5" y1="843.74" x2="982" y2="843.74" stroke="#000" stroke-width="2"/>
<rect x="650.86" y="890.18" width="72.7" height="72.7" fill="#72A5C0"/>
<text x="669.84" y="921.13" font-size="25">3. </text><path d="M763 0L583 0L583 1147Q518 1085 412 1023Q306 961 222 930L222 1104Q373 1175 486 1276Q599 1377 646 1472L763 1472Z" transform="translate(690.69,921.13) scale(0.01221,-0.01221)"/>
<text x="661.51" y="949.63" font-size="25">( .3)</text><path d="M763 0L583 0L583 1147Q518 1085 412 1023Q306 961 222 930L222 1104Q373 1175 486 1276Q599 1377 646 1472L763 1472Z" transform="translate(669.84,949.63) scale(0.01221,-0.01221)"/>
<rect x="734.99" y="890.18" width="72.7" height="72.7" fill="#94BCCC"/>
<text x="753.96" y="921.13" font-size="25">2.9</text>
<text x="745.64" y="949.63" font-size="25">( .9)</text><path d="M763 0L583 0L583 1147Q518 1085 412 1023Q306 961 222 930L222 1104Q373 1175 486 1276Q599 1377 646 1472L763 1472Z" transform="translate(753.96,949.63) scale(0.01221,-0.01221)"/>
<rect x="819.11" y="890.18" width="72.7" height="72.7" fill="#94BCCC"/>
<text x="838.09" y="921.13" font-size="25">2.7</text>
<text x="829.76" y="949.63" font-size="25">( .6)</text><path d="M763 0L583 0L583 1147Q518 1085 412 1023Q306 961 222 930L222 1104Q373 1175 486 1276Q599 1377 646 1472L763 1472Z" transform="translate(838.09,949.63) scale(0.01221,-0.01221)"/>
<rect x="903.24" y="890.18" width="72.7" height="72.7" fill="#FCEDE6"/>
<text x="914.95" y="936.53" font-size="28.6">-0. </text><path d="M763 0L583 0L583 1147Q518 1085 412 1023Q306 961 222 930L222 1104Q373 1175 486 1276Q599 1377 646 1472L763 1472Z" transform="translate(948.32,936.53) scale(0.01396,-0.01396)"/>
<text x="1005.83" y="925.73" font-size="24.5">QR</text>
<text x="991.25" y="950.03" font-size="20.8">( ,00 )</text><path d="M763 0L583 0L583 1147Q518 1085 412 1023Q306 961 222 930L222 1104Q373 1175 486 1276Q599 1377 646 1472L763 1472Z" transform="translate(998.17,950.03) scale(0.01016,-0.01016)"/><path d="M763 0L583 0L583 1147Q518 1085 412 1023Q306 961 222 930L222 1104Q373 1175 486 1276Q599 1377 646 1472L763 1472Z" transform="translate(1038.66,950.03) scale(0.01016,-0.01016)"/>
<line x1="645.5" y1="926.53" x2="651" y2="926.53" stroke="#000" stroke-width="2"/>
<line x1="976.5" y1="926.53" x2="982" y2="926.53" stroke="#000" stroke-width="2"/>
<rect x="650.86" y="972.97" width="72.7" height="72.7" fill="#94BCCC"/>
<text x="669.84" y="1003.92" font-size="25">2.8</text>
<text x="661.51" y="1032.42" font-size="25">( .5)</text><path d="M763 0L583 0L583 1147Q518 1085 412 1023Q306 961 222 930L222 1104Q373 1175 486 1276Q599 1377 646 1472L763 1472Z" transform="translate(669.84,1032.42) scale(0.01221,-0.01221)"/>
<rect x="734.99" y="972.97" width="72.7" height="72.7" fill="#94BCCC"/>
<text x="753.96" y="1003.92" font-size="25">2.6</text>
<text x="745.64" y="1032.42" font-size="25">(2. )</text><path d="M763 0L583 0L583 1147Q518 1085 412 1023Q306 961 222 930L222 1104Q373 1175 486 1276Q599 1377 646 1472L763 1472Z" transform="translate(774.81,1032.42) scale(0.01221,-0.01221)"/>
<rect x="819.11" y="972.97" width="72.7" height="72.7" fill="#94BCCC"/>
<text x="838.09" y="1003.92" font-size="25">2. </text><path d="M763 0L583 0L583 1147Q518 1085 412 1023Q306 961 222 930L222 1104Q373 1175 486 1276Q599 1377 646 1472L763 1472Z" transform="translate(858.94,1003.92) scale(0.01221,-0.01221)"/>
<text x="829.76" y="1032.42" font-size="25">( .7)</text><path d="M763 0L583 0L583 1147Q518 1085 412 1023Q306 961 222 930L222 1104Q373 1175 486 1276Q599 1377 646 1472L763 1472Z" transform="translate(838.09,1032.42) scale(0.01221,-0.01221)"/>
<rect x="904.24" y="973.97" width="70.7" height="70.7" fill="#FCEDE6" stroke="#000" stroke-width="2"/>
<text x="914.95" y="1019.32" font-size="28.6">-0.5</text>
<text x="1008.55" y="1008.52" font-size="24.5">FE</text>
<text x="999.92" y="1032.82" font-size="20.8">(630)</text>
<line x1="645.5" y1="1009.32" x2="651" y2="1009.32" stroke="#000" stroke-width="2"/>
<line x1="976.5" y1="1009.32" x2="982" y2="1009.32" stroke="#000" stroke-width="2"/>
<rect x="650.86" y="1055.76" width="72.7" height="72.7" fill="#94BCCC"/>
<text x="669.84" y="1086.71" font-size="25">2.8</text>
<text x="661.51" y="1115.21" font-size="25">( .3)</text><path d="M763 0L583 0L583 1147Q518 1085 412 1023Q306 961 222 930L222 1104Q373 1175 486 1276Q599 1377 646 1472L763 1472Z" transform="translate(669.84,1115.21) scale(0.01221,-0.01221)"/>
<rect x="734.99" y="1055.76" width="72.7" height="72.7" fill="#94BCCC"/>
<text x="753.96" y="1086.71" font-size="25">2.9</text>
<text x="745.64" y="1115.21" font-size="25">(2.0)</text>
<rect x="819.11" y="1055.76" width="72.7" height="72.7" fill="#94BCCC"/>
<text x="838.09" y="1086.71" font-size="25">2.3</text>
<text x="829.76" y="1115.21" font-size="25">( .6)</text><path d="M763 0L583 0L583 1147Q518 1085 412 1023Q306 961 222 930L222 1104Q373 1175 486 1276Q599 1377 646 1472L763 1472Z" transform="translate(838.09,1115.21) scale(0.01221,-0.01221)"/>
<rect x="904.24" y="1056.76" width="70.7" height="70.7" fill="#FCEDE6" stroke="#000" stroke-width="2"/>
<text x="914.95" y="1102.11" font-size="28.6">-0.5</text>
<text x="1010.59" y="1091.31" font-size="24.5">All</text>
<text x="991.25" y="1115.61" font-size="20.8">(5,472)</text>
<line x1="645.5" y1="1092.11" x2="651" y2="1092.11" stroke="#000" stroke-width="2"/>
<line x1="976.5" y1="1092.11" x2="982" y2="1092.11" stroke="#000" stroke-width="2"/>
<line x1="687.56" y1="471.7" x2="687.56" y2="476.2" stroke="#000" stroke-width="2"/>
<line x1="687.56" y1="1129.5" x2="687.56" y2="1134" stroke="#000" stroke-width="2"/>
<line x1="771.69" y1="471.7" x2="771.69" y2="476.2" stroke="#000" stroke-width="2"/>
<line x1="771.69" y1="1129.5" x2="771.69" y2="1134" stroke="#000" stroke-width="2"/>
<line x1="855.81" y1="471.7" x2="855.81" y2="476.2" stroke="#000" stroke-width="2"/>
<line x1="855.81" y1="1129.5" x2="855.81" y2="1134" stroke="#000" stroke-width="2"/>
<line x1="939.94" y1="471.7" x2="939.94" y2="476.2" stroke="#000" stroke-width="2"/>
<line x1="939.94" y1="1129.5" x2="939.94" y2="1134" stroke="#000" stroke-width="2"/>
<rect x="645.5" y="471.7" width="336.5" height="662.3" fill="none" stroke="#000" stroke-width="2"/>
<g transform="translate(691.26,1163.3) rotate(-20)"><text x="-116.21" y="0" font-size="24.3"> 980-20 3</text><path d="M763 0L583 0L583 1147Q518 1085 412 1023Q306 961 222 930L222 1104Q373 1175 486 1276Q599 1377 646 1472L763 1472Z" transform="translate(-116.21,0) scale(0.01187,-0.01187)"/><path d="M763 0L583 0L583 1147Q518 1085 412 1023Q306 961 222 930L222 1104Q373 1175 486 1276Q599 1377 646 1472L763 1472Z" transform="translate(-27.03,0) scale(0.01187,-0.01187)"/></g>
<g transform="translate(775.39,1163.3) rotate(-20)"><text x="-116.21" y="0" font-size="24.3"> 980- 994</text><path d="M763 0L583 0L583 1147Q518 1085 412 1023Q306 961 222 930L222 1104Q373 1175 486 1276Q599 1377 646 1472L763 1472Z" transform="translate(-116.21,0) scale(0.01187,-0.01187)"/><path d="M763 0L583 0L583 1147Q518 1085 412 1023Q306 961 222 930L222 1104Q373 1175 486 1276Q599 1377 646 1472L763 1472Z" transform="translate(-54.06,0) scale(0.01187,-0.01187)"/></g>
<g transform="translate(859.51,1163.3) rotate(-20)"><text x="-116.21" y="0" font-size="24.3"> 999-20 3</text><path d="M763 0L583 0L583 1147Q518 1085 412 1023Q306 961 222 930L222 1104Q373 1175 486 1276Q599 1377 646 1472L763 1472Z" transform="translate(-116.21,0) scale(0.01187,-0.01187)"/><path d="M763 0L583 0L583 1147Q518 1085 412 1023Q306 961 222 930L222 1104Q373 1175 486 1276Q599 1377 646 1472L763 1472Z" transform="translate(-27.03,0) scale(0.01187,-0.01187)"/></g>
<g transform="translate(943.64,1163.3) rotate(-20)"><text x="-110.75" y="0" font-size="24.3">Difference</text></g>
<text transform="translate(14.99,478.3) scale(0.9960,1)" font-size="29.52" font-weight="bold">b</text>
<text transform="translate(603.44,490.2) scale(0.9573,1)" font-size="30.32" font-weight="bold">c</text>
<rect x="104.5" y="460" width="18.5" height="66.53" fill="#4C8BAF"/>
<rect x="104.5" y="526.23" width="18.5" height="66.53" fill="#72A5C0"/>
<rect x="104.5" y="592.46" width="18.5" height="66.53" fill="#94BCCC"/>
<rect x="104.5" y="658.69" width="18.5" height="66.53" fill="#B7D6DB"/>
<rect x="104.5" y="724.92" width="18.5" height="66.53" fill="#DDEEE8"/>
<rect x="104.5" y="791.15" width="18.5" height="66.53" fill="#FCEDE6"/>
<rect x="104.5" y="857.38" width="18.5" height="66.53" fill="#F0BEC3"/>
<rect x="104.5" y="923.61" width="18.5" height="66.53" fill="#E492A0"/>
<rect x="104.5" y="989.84" width="18.5" height="66.53" fill="#DA6A80"/>
<rect x="104.5" y="1056.07" width="18.5" height="66.53" fill="#CC3A58"/>
<line x1="104.5" y1="592.46" x2="111" y2="592.46" stroke="#000" stroke-width="2"/>
<line x1="116.5" y1="592.46" x2="123" y2="592.46" stroke="#000" stroke-width="2"/>
<line x1="104.5" y1="724.92" x2="111" y2="724.92" stroke="#000" stroke-width="2"/>
<line x1="116.5" y1="724.92" x2="123" y2="724.92" stroke="#000" stroke-width="2"/>
<line x1="104.5" y1="857.38" x2="111" y2="857.38" stroke="#000" stroke-width="2"/>
<line x1="116.5" y1="857.38" x2="123" y2="857.38" stroke="#000" stroke-width="2"/>
<line x1="104.5" y1="989.84" x2="111" y2="989.84" stroke="#000" stroke-width="2"/>
<line x1="116.5" y1="989.84" x2="123" y2="989.84" stroke="#000" stroke-width="2"/>
<rect x="104.5" y="460" width="18.5" height="662.3" fill="none" stroke="#000" stroke-width="2"/>
<text x="78.20" y="469" font-size="25">5</text>
<text x="78.20" y="601.46" font-size="25">3</text>
<text x="78.20" y="733.92" font-size="25"> </text><path d="M763 0L583 0L583 1147Q518 1085 412 1023Q306 961 222 930L222 1104Q373 1175 486 1276Q599 1377 646 1472L763 1472Z" transform="translate(78.20,733.92) scale(0.01221,-0.01221)"/>
<text x="69.87" y="866.38" font-size="25">- </text><path d="M763 0L583 0L583 1147Q518 1085 412 1023Q306 961 222 930L222 1104Q373 1175 486 1276Q599 1377 646 1472L763 1472Z" transform="translate(78.20,866.38) scale(0.01221,-0.01221)"/>
<text x="69.87" y="998.84" font-size="25">-3</text>
<text x="69.87" y="1131.3" font-size="25">-5</text>
<rect x="1077.5" y="460" width="19" height="66.53" fill="#4C8BAF"/>
<rect x="1077.5" y="526.23" width="19" height="66.53" fill="#72A5C0"/>
<rect x="1077.5" y="592.46" width="19" height="66.53" fill="#94BCCC"/>
<rect x="1077.5" y="658.69" width="19" height="66.53" fill="#B7D6DB"/>
<rect x="1077.5" y="724.92" width="19" height="66.53" fill="#DDEEE8"/>
<rect x="1077.5" y="791.15" width="19" height="66.53" fill="#FCEDE6"/>
<rect x="1077.5" y="857.38" width="19" height="66.53" fill="#F0BEC3"/>
<rect x="1077.5" y="923.61" width="19" height="66.53" fill="#E492A0"/>
<rect x="1077.5" y="989.84" width="19" height="66.53" fill="#DA6A80"/>
<rect x="1077.5" y="1056.07" width="19" height="66.53" fill="#CC3A58"/>
<line x1="1077.5" y1="592.46" x2="1084" y2="592.46" stroke="#000" stroke-width="2"/>
<line x1="1090" y1="592.46" x2="1096.5" y2="592.46" stroke="#000" stroke-width="2"/>
<line x1="1077.5" y1="724.92" x2="1084" y2="724.92" stroke="#000" stroke-width="2"/>
<line x1="1090" y1="724.92" x2="1096.5" y2="724.92" stroke="#000" stroke-width="2"/>
<line x1="1077.5" y1="857.38" x2="1084" y2="857.38" stroke="#000" stroke-width="2"/>
<line x1="1090" y1="857.38" x2="1096.5" y2="857.38" stroke="#000" stroke-width="2"/>
<line x1="1077.5" y1="989.84" x2="1084" y2="989.84" stroke="#000" stroke-width="2"/>
<line x1="1090" y1="989.84" x2="1096.5" y2="989.84" stroke="#000" stroke-width="2"/>
<rect x="1077.5" y="460" width="19" height="662.3" fill="none" stroke="#000" stroke-width="2"/>
<text x="1107.50" y="469" font-size="25">5</text>
<text x="1107.50" y="601.46" font-size="25">3</text>
<text x="1107.50" y="733.92" font-size="25"> </text><path d="M763 0L583 0L583 1147Q518 1085 412 1023Q306 961 222 930L222 1104Q373 1175 486 1276Q599 1377 646 1472L763 1472Z" transform="translate(1107.50,733.92) scale(0.01221,-0.01221)"/>
<text x="1107.50" y="866.38" font-size="25">- </text><path d="M763 0L583 0L583 1147Q518 1085 412 1023Q306 961 222 930L222 1104Q373 1175 486 1276Q599 1377 646 1472L763 1472Z" transform="translate(1115.83,866.38) scale(0.01221,-0.01221)"/>
<text x="1107.50" y="998.84" font-size="25">-3</text>
<text x="1107.50" y="1131.3" font-size="25">-5</text>
<g transform="translate(33,883.4) rotate(-90)">
<text x="-1" y="0" font-size="29" transform="scale(1.22,1)">S</text>
<text x="23" y="14" font-size="21">T</text>
<text x="43" y="0" font-size="29">(days</text>
<text x="120.6" y="-15.5" font-size="20">o</text>
<text x="131.6" y="0" font-size="29">C</text>
<text x="151.70" y="-15.5" font-size="20">- </text><path d="M763 0L583 0L583 1147Q518 1085 412 1023Q306 961 222 930L222 1104Q373 1175 486 1276Q599 1377 646 1472L763 1472Z" transform="translate(158.36,-15.5) scale(0.00977,-0.00977)"/>
<text x="170.6" y="0" font-size="29">)</text>
</g>
<g transform="translate(1182,883.4) rotate(-90)">
<text x="-1" y="0" font-size="29" transform="scale(1.22,1)">S</text>
<text x="23" y="14" font-size="21">T</text>
<text x="43" y="0" font-size="29">(days</text>
<text x="120.6" y="-15.5" font-size="20">o</text>
<text x="131.6" y="0" font-size="29">C</text>
<text x="151.70" y="-15.5" font-size="20">- </text><path d="M763 0L583 0L583 1147Q518 1085 412 1023Q306 961 222 930L222 1104Q373 1175 486 1276Q599 1377 646 1472L763 1472Z" transform="translate(158.36,-15.5) scale(0.00977,-0.00977)"/>
<text x="170.6" y="0" font-size="29">)</text>
</g>
<rect x="150.6" y="1673.98" width="6.9" height="4.02" fill="#0000FF"/>
<rect x="159.03" y="1677.06" width="6.9" height="0.94" fill="#0080FF"/>
<rect x="167.46" y="1677.06" width="6.9" height="0.94" fill="#00FFFF"/>
<rect x="175.89" y="1677.06" width="6.9" height="0.94" fill="#80FF80"/>
<rect x="192.75" y="1676.11" width="6.9" height="1.89" fill="#FF8000"/>
<rect x="201.18" y="1673.51" width="6.9" height="4.49" fill="#FF0000"/>
<rect x="209.61" y="1675.87" width="6.9" height="2.13" fill="#800000"/>
<rect x="234.63" y="1676.11" width="6.9" height="1.89" fill="#0000FF"/>
<rect x="243.06" y="1677.29" width="6.9" height="0.71" fill="#0080FF"/>
<rect x="259.92" y="1677.06" width="6.9" height="0.94" fill="#80FF80"/>
<rect x="276.78" y="1674.22" width="6.9" height="3.78" fill="#FF8000"/>
<rect x="285.21" y="1673.51" width="6.9" height="4.49" fill="#FF0000"/>
<rect x="293.64" y="1675.87" width="6.9" height="2.13" fill="#800000"/>
<rect x="318.66" y="1671.38" width="6.9" height="6.61" fill="#0000FF"/>
<rect x="343.95" y="1664.3" width="6.9" height="13.7" fill="#80FF80"/>
<rect x="360.81" y="1674.22" width="6.9" height="3.78" fill="#FF8000"/>
<rect x="369.24" y="1667.13" width="6.9" height="10.87" fill="#FF0000"/>
<rect x="377.67" y="1673.28" width="6.9" height="4.72" fill="#800000"/>
<rect x="402.69" y="1664.3" width="6.9" height="13.7" fill="#0000FF"/>
<rect x="411.12" y="1674.22" width="6.9" height="3.78" fill="#0080FF"/>
<rect x="419.55" y="1671.86" width="6.9" height="6.14" fill="#00FFFF"/>
<rect x="427.98" y="1640.67" width="6.9" height="37.33" fill="#80FF80"/>
<rect x="436.41" y="1642.09" width="6.9" height="35.91" fill="#FFFF00"/>
<rect x="444.84" y="1656.74" width="6.9" height="21.26" fill="#FF8000"/>
<rect x="453.27" y="1651.07" width="6.9" height="26.93" fill="#FF0000"/>
<rect x="461.7" y="1660.99" width="6.9" height="17.01" fill="#800000"/>
<rect x="486.72" y="1630.51" width="6.9" height="47.49" fill="#0000FF"/>
<rect x="495.15" y="1648" width="6.9" height="30" fill="#0080FF"/>
<rect x="503.58" y="1629.81" width="6.9" height="48.19" fill="#00FFFF"/>
<rect x="512.01" y="1587.28" width="6.9" height="90.72" fill="#80FF80"/>
<rect x="520.44" y="1605.71" width="6.9" height="72.29" fill="#FFFF00"/>
<rect x="528.87" y="1548.06" width="6.9" height="129.94" fill="#FF8000"/>
<rect x="537.3" y="1556.57" width="6.9" height="121.43" fill="#FF0000"/>
<rect x="545.73" y="1603.82" width="6.9" height="74.18" fill="#800000"/>
<rect x="570.75" y="1393.56" width="6.9" height="284.44" fill="#0000FF"/>
<rect x="579.18" y="1299.53" width="6.9" height="378.47" fill="#0080FF"/>
<rect x="587.61" y="1313.23" width="6.9" height="364.77" fill="#00FFFF"/>
<rect x="596.04" y="1396.86" width="6.9" height="281.14" fill="#80FF80"/>
<rect x="604.47" y="1351.03" width="6.9" height="326.97" fill="#FFFF00"/>
<rect x="612.9" y="1401.12" width="6.9" height="276.88" fill="#FF8000"/>
<rect x="621.33" y="1407.26" width="6.9" height="270.74" fill="#FF0000"/>
<rect x="629.76" y="1359.54" width="6.9" height="318.46" fill="#800000"/>
<rect x="654.78" y="1576.41" width="6.9" height="101.59" fill="#0000FF"/>
<rect x="663.21" y="1622.72" width="6.9" height="55.28" fill="#0080FF"/>
<rect x="671.64" y="1631.22" width="6.9" height="46.78" fill="#00FFFF"/>
<rect x="680.07" y="1635.47" width="6.9" height="42.52" fill="#80FF80"/>
<rect x="688.5" y="1642.09" width="6.9" height="35.91" fill="#FFFF00"/>
<rect x="696.93" y="1645.87" width="6.9" height="32.13" fill="#FF8000"/>
<rect x="705.36" y="1649.65" width="6.9" height="28.35" fill="#FF0000"/>
<rect x="713.79" y="1628.39" width="6.9" height="49.61" fill="#800000"/>
<rect x="738.81" y="1672.33" width="6.9" height="5.67" fill="#0000FF"/>
<rect x="764.1" y="1677.06" width="6.9" height="0.94" fill="#80FF80"/>
<rect x="789.39" y="1675.16" width="6.9" height="2.83" fill="#FF0000"/>
<rect x="797.82" y="1676.58" width="6.9" height="1.42" fill="#800000"/>
<rect x="822.84" y="1677.29" width="6.9" height="0.71" fill="#0000FF"/>
<rect x="1041.48" y="1677.06" width="6.9" height="0.94" fill="#FF0000"/>
<rect x="1074.93" y="1677.29" width="6.9" height="0.71" fill="#0000FF"/>
<rect x="1091.79" y="1677.29" width="6.9" height="0.71" fill="#00FFFF"/>
<rect x="141.6" y="1253" width="1008.4" height="425" fill="none" stroke="#000" stroke-width="2"/>
<line x1="131.6" y1="1678" x2="141.6" y2="1678" stroke="#000" stroke-width="2"/>
<text x="102.68" y="1688.2" font-size="28.8">0</text>
<line x1="131.6" y1="1583.5" x2="141.6" y2="1583.5" stroke="#000" stroke-width="2"/>
<text x="86.67" y="1593.7" font-size="28.8">20</text>
<line x1="131.6" y1="1489" x2="141.6" y2="1489" stroke="#000" stroke-width="2"/>
<text x="86.67" y="1499.2" font-size="28.8">40</text>
<line x1="131.6" y1="1394.5" x2="141.6" y2="1394.5" stroke="#000" stroke-width="2"/>
<text x="86.67" y="1404.7" font-size="28.8">60</text>
<line x1="131.6" y1="1300" x2="141.6" y2="1300" stroke="#000" stroke-width="2"/>
<text x="86.67" y="1310.2" font-size="28.8">80</text>
<line x1="226" y1="1678" x2="226" y2="1688" stroke="#000" stroke-width="2"/>
<text x="196.60" y="1727" font-size="28.6">-0.5</text>
<line x1="310" y1="1678" x2="310" y2="1688" stroke="#000" stroke-width="2"/>
<text x="280.60" y="1727" font-size="28.6">-0.4</text>
<line x1="394" y1="1678" x2="394" y2="1688" stroke="#000" stroke-width="2"/>
<text x="364.60" y="1727" font-size="28.6">-0.3</text>
<line x1="478" y1="1678" x2="478" y2="1688" stroke="#000" stroke-width="2"/>
<text x="448.60" y="1727" font-size="28.6">-0.2</text>
<line x1="562" y1="1678" x2="562" y2="1688" stroke="#000" stroke-width="2"/>
<text x="532.60" y="1727" font-size="28.6">-0. </text><path d="M763 0L583 0L583 1147Q518 1085 412 1023Q306 961 222 930L222 1104Q373 1175 486 1276Q599 1377 646 1472L763 1472Z" transform="translate(565.97,1727) scale(0.01396,-0.01396)"/>
<line x1="646" y1="1678" x2="646" y2="1688" stroke="#000" stroke-width="2"/>
<text x="638.05" y="1727" font-size="28.6">0</text>
<line x1="730" y1="1678" x2="730" y2="1688" stroke="#000" stroke-width="2"/>
<text x="710.12" y="1727" font-size="28.6">0. </text><path d="M763 0L583 0L583 1147Q518 1085 412 1023Q306 961 222 930L222 1104Q373 1175 486 1276Q599 1377 646 1472L763 1472Z" transform="translate(733.97,1727) scale(0.01396,-0.01396)"/>
<line x1="814" y1="1678" x2="814" y2="1688" stroke="#000" stroke-width="2"/>
<text x="794.12" y="1727" font-size="28.6">0.2</text>
<line x1="898" y1="1678" x2="898" y2="1688" stroke="#000" stroke-width="2"/>
<text x="878.12" y="1727" font-size="28.6">0.3</text>
<line x1="982" y1="1678" x2="982" y2="1688" stroke="#000" stroke-width="2"/>
<text x="962.12" y="1727" font-size="28.6">0.4</text>
<line x1="1066" y1="1678" x2="1066" y2="1688" stroke="#000" stroke-width="2"/>
<text x="1046.12" y="1727" font-size="28.6">0.5</text>
<text x="405.34" y="1768" font-size="28.8">Proportion ( 999-20 3 vs  980-20 3)</text><path d="M763 0L583 0L583 1147Q518 1085 412 1023Q306 961 222 930L222 1104Q373 1175 486 1276Q599 1377 646 1472L763 1472Z" transform="translate(555.81,1768) scale(0.01406,-0.01406)"/><path d="M763 0L583 0L583 1147Q518 1085 412 1023Q306 961 222 930L222 1104Q373 1175 486 1276Q599 1377 646 1472L763 1472Z" transform="translate(661.50,1768) scale(0.01406,-0.01406)"/><path d="M763 0L583 0L583 1147Q518 1085 412 1023Q306 961 222 930L222 1104Q373 1175 486 1276Q599 1377 646 1472L763 1472Z" transform="translate(738.34,1768) scale(0.01406,-0.01406)"/><path d="M763 0L583 0L583 1147Q518 1085 412 1023Q306 961 222 930L222 1104Q373 1175 486 1276Q599 1377 646 1472L763 1472Z" transform="translate(844.03,1768) scale(0.01406,-0.01406)"/>
<text transform="translate(62.6,1465.4) rotate(-90)" font-size="28.9" text-anchor="middle">Frequency (%)</text>
<text transform="translate(15.46,1284.36) scale(0.9958,1)" font-size="33.61" font-weight="bold">d</text>
<rect x="680.2" y="1269.3" width="40.1" height="14.3" fill="#0000FF"/>
<text x="731.7" y="1285.6" font-size="24.7" font-style="italic">Alnus glutinosa</text>
<text x="913.51" y="1285.6" font-size="24.7">-0.05(0.07)</text>
<rect x="680.2" y="1306.47" width="40.1" height="14.3" fill="#0080FF"/>
<text x="731.7" y="1322.77" font-size="24.7" font-style="italic">Betula pendula</text>
<text x="910.80" y="1322.77" font-size="24.7">-0.05(0. 2)</text><path d="M763 0L583 0L583 1147Q518 1085 412 1023Q306 961 222 930L222 1104Q373 1175 486 1276Q599 1377 646 1472L763 1472Z" transform="translate(995.92,1322.77) scale(0.01206,-0.01206)"/>
<rect x="680.2" y="1343.64" width="40.1" height="14.3" fill="#00FFFF"/>
<text x="731.7" y="1359.94" font-size="24.7" font-style="italic">Aesculus hippocastanum</text>
<text x="1020.28" y="1359.94" font-size="24.7">-0.04(0.08)</text>
<rect x="680.2" y="1380.81" width="40.1" height="14.3" fill="#80FF80"/>
<text x="731.7" y="1397.11" font-size="24.7" font-style="italic">Fagus sylvatica</text>
<text x="916.17" y="1397.11" font-size="24.7">-0.08(0.09)</text>
<rect x="680.2" y="1417.98" width="40.1" height="14.3" fill="#FFFF00"/>
<text x="731.7" y="1434.28" font-size="24.7" font-style="italic">Tilia cordata</text>
<text x="880.29" y="1434.28" font-size="24.7">-0.09(0.  )</text><path d="M763 0L583 0L583 1147Q518 1085 412 1023Q306 961 222 930L222 1104Q373 1175 486 1276Q599 1377 646 1472L763 1472Z" transform="translate(965.42,1434.28) scale(0.01206,-0.01206)"/><path d="M763 0L583 0L583 1147Q518 1085 412 1023Q306 961 222 930L222 1104Q373 1175 486 1276Q599 1377 646 1472L763 1472Z" transform="translate(979.15,1434.28) scale(0.01206,-0.01206)"/>
<rect x="680.2" y="1455.15" width="40.1" height="14.3" fill="#FF8000"/>
<text x="731.7" y="1471.45" font-size="24.7" font-style="italic">Quercus robur</text>
<text x="905.55" y="1471.45" font-size="24.7">-0.09(0.09)</text>
<rect x="680.2" y="1492.32" width="40.1" height="14.3" fill="#FF0000"/>
<text x="731.7" y="1508.62" font-size="24.7" font-style="italic">Fraxinus excelsior</text>
<text x="946.67" y="1508.62" font-size="24.7">-0.07(0.07)</text>
<rect x="680.2" y="1529.49" width="40.1" height="14.3" fill="#800000"/>
<text x="731.7" y="1545.79" font-size="24.7">All</text>
<text x="772.60" y="1545.79" font-size="24.7">-0.07(0.09)</text>
<rect x="152.9" y="2230.29" width="8.3" height="3.31" fill="#0000FF"/>
<rect x="213.38" y="2231.9" width="8.3" height="1.7" fill="#FF0000"/>
<rect x="253.74" y="2225.57" width="8.3" height="8.03" fill="#0000FF"/>
<rect x="304.14" y="2230.76" width="8.3" height="2.83" fill="#FF8000"/>
<rect x="314.22" y="2227.93" width="8.3" height="5.67" fill="#FF0000"/>
<rect x="324.3" y="2231.24" width="8.3" height="2.36" fill="#800000"/>
<rect x="354.58" y="2207.61" width="8.3" height="25.99" fill="#0000FF"/>
<rect x="364.66" y="2227.69" width="8.3" height="5.91" fill="#0080FF"/>
<rect x="374.74" y="2226.04" width="8.3" height="7.56" fill="#00FFFF"/>
<rect x="384.82" y="2226.51" width="8.3" height="7.09" fill="#80FF80"/>
<rect x="394.9" y="2198.16" width="8.3" height="35.44" fill="#FFFF00"/>
<rect x="404.98" y="2217.53" width="8.3" height="16.06" fill="#FF8000"/>
<rect x="415.06" y="2206.67" width="8.3" height="26.93" fill="#FF0000"/>
<rect x="425.14" y="2220.37" width="8.3" height="13.23" fill="#800000"/>
<rect x="455.42" y="2139.81" width="8.3" height="93.79" fill="#0000FF"/>
<rect x="465.5" y="2159.42" width="8.3" height="74.18" fill="#0080FF"/>
<rect x="475.58" y="2119.73" width="8.3" height="113.87" fill="#00FFFF"/>
<rect x="485.66" y="2122.56" width="8.3" height="111.04" fill="#80FF80"/>
<rect x="495.74" y="2143.82" width="8.3" height="89.77" fill="#FFFF00"/>
<rect x="505.82" y="2054.99" width="8.3" height="178.6" fill="#FF8000"/>
<rect x="515.9" y="2053.58" width="8.3" height="180.02" fill="#FF0000"/>
<rect x="525.98" y="2111.22" width="8.3" height="122.38" fill="#800000"/>
<rect x="556.26" y="2008.22" width="8.3" height="225.38" fill="#0000FF"/>
<rect x="566.34" y="1900.49" width="8.3" height="333.11" fill="#0080FF"/>
<rect x="576.42" y="1933.56" width="8.3" height="300.04" fill="#00FFFF"/>
<rect x="586.5" y="1927.89" width="8.3" height="305.71" fill="#80FF80"/>
<rect x="596.58" y="1925.06" width="8.3" height="308.54" fill="#FFFF00"/>
<rect x="606.66" y="1995.46" width="8.3" height="238.14" fill="#FF8000"/>
<rect x="616.74" y="2012" width="8.3" height="221.6" fill="#FF0000"/>
<rect x="626.82" y="1954.35" width="8.3" height="279.25" fill="#800000"/>
<rect x="657.1" y="2140.99" width="8.3" height="92.61" fill="#0000FF"/>
<rect x="667.18" y="2181.15" width="8.3" height="52.45" fill="#0080FF"/>
<rect x="677.26" y="2189.66" width="8.3" height="43.94" fill="#00FFFF"/>
<rect x="687.34" y="2192.26" width="8.3" height="41.34" fill="#80FF80"/>
<rect x="697.42" y="2198.63" width="8.3" height="34.96" fill="#FFFF00"/>
<rect x="707.5" y="2205.25" width="8.3" height="28.35" fill="#FF8000"/>
<rect x="717.58" y="2208.56" width="8.3" height="25.04" fill="#FF0000"/>
<rect x="727.66" y="2187.3" width="8.3" height="46.3" fill="#800000"/>
<rect x="757.94" y="2218.95" width="8.3" height="14.65" fill="#0000FF"/>
<rect x="768.02" y="2231.9" width="8.3" height="1.7" fill="#0080FF"/>
<rect x="778.1" y="2231.95" width="8.3" height="1.65" fill="#00FFFF"/>
<rect x="788.18" y="2231.95" width="8.3" height="1.65" fill="#80FF80"/>
<rect x="808.34" y="2230.91" width="8.3" height="2.69" fill="#FF8000"/>
<rect x="818.42" y="2228.88" width="8.3" height="4.72" fill="#FF0000"/>
<rect x="828.5" y="2229.91" width="8.3" height="3.69" fill="#800000"/>
<rect x="858.78" y="2232.8" width="8.3" height="0.8" fill="#0000FF"/>
<rect x="878.94" y="2232.65" width="8.3" height="0.94" fill="#00FFFF"/>
<rect x="919.26" y="2231.9" width="8.3" height="1.7" fill="#FF0000"/>
<rect x="141.6" y="1808.9" width="1008.4" height="424.7" fill="none" stroke="#000" stroke-width="2"/>
<line x1="131.6" y1="2233.6" x2="141.6" y2="2233.6" stroke="#000" stroke-width="2"/>
<text x="102.68" y="2243.8" font-size="28.8">0</text>
<line x1="131.6" y1="2139.1" x2="141.6" y2="2139.1" stroke="#000" stroke-width="2"/>
<text x="86.67" y="2149.3" font-size="28.8">20</text>
<line x1="131.6" y1="2044.6" x2="141.6" y2="2044.6" stroke="#000" stroke-width="2"/>
<text x="86.67" y="2054.8" font-size="28.8">40</text>
<line x1="131.6" y1="1950.1" x2="141.6" y2="1950.1" stroke="#000" stroke-width="2"/>
<text x="86.67" y="1960.3" font-size="28.8">60</text>
<line x1="131.6" y1="1855.6" x2="141.6" y2="1855.6" stroke="#000" stroke-width="2"/>
<text x="86.67" y="1865.8" font-size="28.8">80</text>
<line x1="141.6" y1="2233.6" x2="141.6" y2="2243.6" stroke="#000" stroke-width="2"/>
<text x="116.17" y="2282.6" font-size="28.6">-20</text>
<line x1="242.44" y1="2233.6" x2="242.44" y2="2243.6" stroke="#000" stroke-width="2"/>
<text x="217.01" y="2282.6" font-size="28.6">- 6</text><path d="M763 0L583 0L583 1147Q518 1085 412 1023Q306 961 222 930L222 1104Q373 1175 486 1276Q599 1377 646 1472L763 1472Z" transform="translate(226.53,2282.6) scale(0.01396,-0.01396)"/>
<line x1="343.28" y1="2233.6" x2="343.28" y2="2243.6" stroke="#000" stroke-width="2"/>
<text x="317.85" y="2282.6" font-size="28.6">- 2</text><path d="M763 0L583 0L583 1147Q518 1085 412 1023Q306 961 222 930L222 1104Q373 1175 486 1276Q599 1377 646 1472L763 1472Z" transform="translate(327.37,2282.6) scale(0.01396,-0.01396)"/>
<line x1="444.12" y1="2233.6" x2="444.12" y2="2243.6" stroke="#000" stroke-width="2"/>
<text x="426.64" y="2282.6" font-size="28.6">-8</text>
<line x1="544.96" y1="2233.6" x2="544.96" y2="2243.6" stroke="#000" stroke-width="2"/>
<text x="527.48" y="2282.6" font-size="28.6">-4</text>
<line x1="645.8" y1="2233.6" x2="645.8" y2="2243.6" stroke="#000" stroke-width="2"/>
<text x="637.85" y="2282.6" font-size="28.6">0</text>
<line x1="746.64" y1="2233.6" x2="746.64" y2="2243.6" stroke="#000" stroke-width="2"/>
<text x="738.69" y="2282.6" font-size="28.6">4</text>
<line x1="847.48" y1="2233.6" x2="847.48" y2="2243.6" stroke="#000" stroke-width="2"/>
<text x="839.53" y="2282.6" font-size="28.6">8</text>
<line x1="948.32" y1="2233.6" x2="948.32" y2="2243.6" stroke="#000" stroke-width="2"/>
<text x="932.41" y="2282.6" font-size="28.6"> 2</text><path d="M763 0L583 0L583 1147Q518 1085 412 1023Q306 961 222 930L222 1104Q373 1175 486 1276Q599 1377 646 1472L763 1472Z" transform="translate(932.41,2282.6) scale(0.01396,-0.01396)"/>
<line x1="1049.16" y1="2233.6" x2="1049.16" y2="2243.6" stroke="#000" stroke-width="2"/>
<text x="1033.25" y="2282.6" font-size="28.6"> 6</text><path d="M763 0L583 0L583 1147Q518 1085 412 1023Q306 961 222 930L222 1104Q373 1175 486 1276Q599 1377 646 1472L763 1472Z" transform="translate(1033.25,2282.6) scale(0.01396,-0.01396)"/>
<line x1="1150" y1="2233.6" x2="1150" y2="2243.6" stroke="#000" stroke-width="2"/>
<text x="1134.09" y="2282.6" font-size="28.6">20</text>
<text x="403.77" y="2323.6" font-size="28.8">Diff MSOS ( 999-20 3 vs  980-20 3)</text><path d="M763 0L583 0L583 1147Q518 1085 412 1023Q306 961 222 930L222 1104Q373 1175 486 1276Q599 1377 646 1472L763 1472Z" transform="translate(557.38,2323.6) scale(0.01406,-0.01406)"/><path d="M763 0L583 0L583 1147Q518 1085 412 1023Q306 961 222 930L222 1104Q373 1175 486 1276Q599 1377 646 1472L763 1472Z" transform="translate(663.07,2323.6) scale(0.01406,-0.01406)"/><path d="M763 0L583 0L583 1147Q518 1085 412 1023Q306 961 222 930L222 1104Q373 1175 486 1276Q599 1377 646 1472L763 1472Z" transform="translate(739.91,2323.6) scale(0.01406,-0.01406)"/><path d="M763 0L583 0L583 1147Q518 1085 412 1023Q306 961 222 930L222 1104Q373 1175 486 1276Q599 1377 646 1472L763 1472Z" transform="translate(845.60,2323.6) scale(0.01406,-0.01406)"/>
<text transform="translate(62.6,2020.7) rotate(-90)" font-size="28.9" text-anchor="middle">Frequency (%)</text>
<text transform="translate(14.73,1840.16) scale(1.0066,1)" font-size="33.97" font-weight="bold">e</text>
<rect x="701" y="1825.7" width="38" height="14.3" fill="#0000FF"/>
<text x="750.8" y="1841.1" font-size="24.7" font-style="italic">Alnus glutinosa</text>
<text x="932.61" y="1841.1" font-size="24.7">-2.7(2.6)</text>
<rect x="701" y="1866.2" width="38" height="14.3" fill="#0080FF"/>
<text x="750.8" y="1881.6" font-size="24.7" font-style="italic">Betula pendula</text>
<text x="929.90" y="1881.6" font-size="24.7">-2.5(4.3)</text>
<rect x="701" y="1906.7" width="38" height="14.3" fill="#00FFFF"/>
<text x="750.8" y="1922.1" font-size="24.7" font-style="italic">Aesculus hippocastanum</text>
<text x="1039.38" y="1922.1" font-size="24.7">-2.3(2.4)</text>
<rect x="701" y="1947.2" width="38" height="14.3" fill="#80FF80"/>
<text x="750.8" y="1962.6" font-size="24.7" font-style="italic">Fagus sylvatica</text>
<text x="935.27" y="1962.6" font-size="24.7">-2.8(2.3)</text>
<rect x="701" y="1987.7" width="38" height="14.3" fill="#FFFF00"/>
<text x="750.8" y="2003.1" font-size="24.7" font-style="italic">Tilia cordata</text>
<text x="899.39" y="2003.1" font-size="24.7">-3.9(3.2)</text>
<rect x="701" y="2028.2" width="38" height="14.3" fill="#FF8000"/>
<text x="750.8" y="2043.6" font-size="24.7" font-style="italic">Quercus robur</text>
<text x="924.65" y="2043.6" font-size="24.7">-3.6(2.7)</text>
<rect x="701" y="2068.7" width="38" height="14.3" fill="#FF0000"/>
<text x="750.8" y="2084.1" font-size="24.7" font-style="italic">Fraxinus excelsior</text>
<text x="965.77" y="2084.1" font-size="24.7">-3. (2.3)</text><path d="M763 0L583 0L583 1147Q518 1085 412 1023Q306 961 222 930L222 1104Q373 1175 486 1276Q599 1377 646 1472L763 1472Z" transform="translate(994.60,2084.1) scale(0.01206,-0.01206)"/>
<rect x="701" y="2109.2" width="38" height="14.3" fill="#800000"/>
<text x="750.8" y="2124.6" font-size="24.7">All</text>
<text x="791.70" y="2124.6" font-size="24.7">-2.9(2.9)</text>
</svg>
</body></html>
